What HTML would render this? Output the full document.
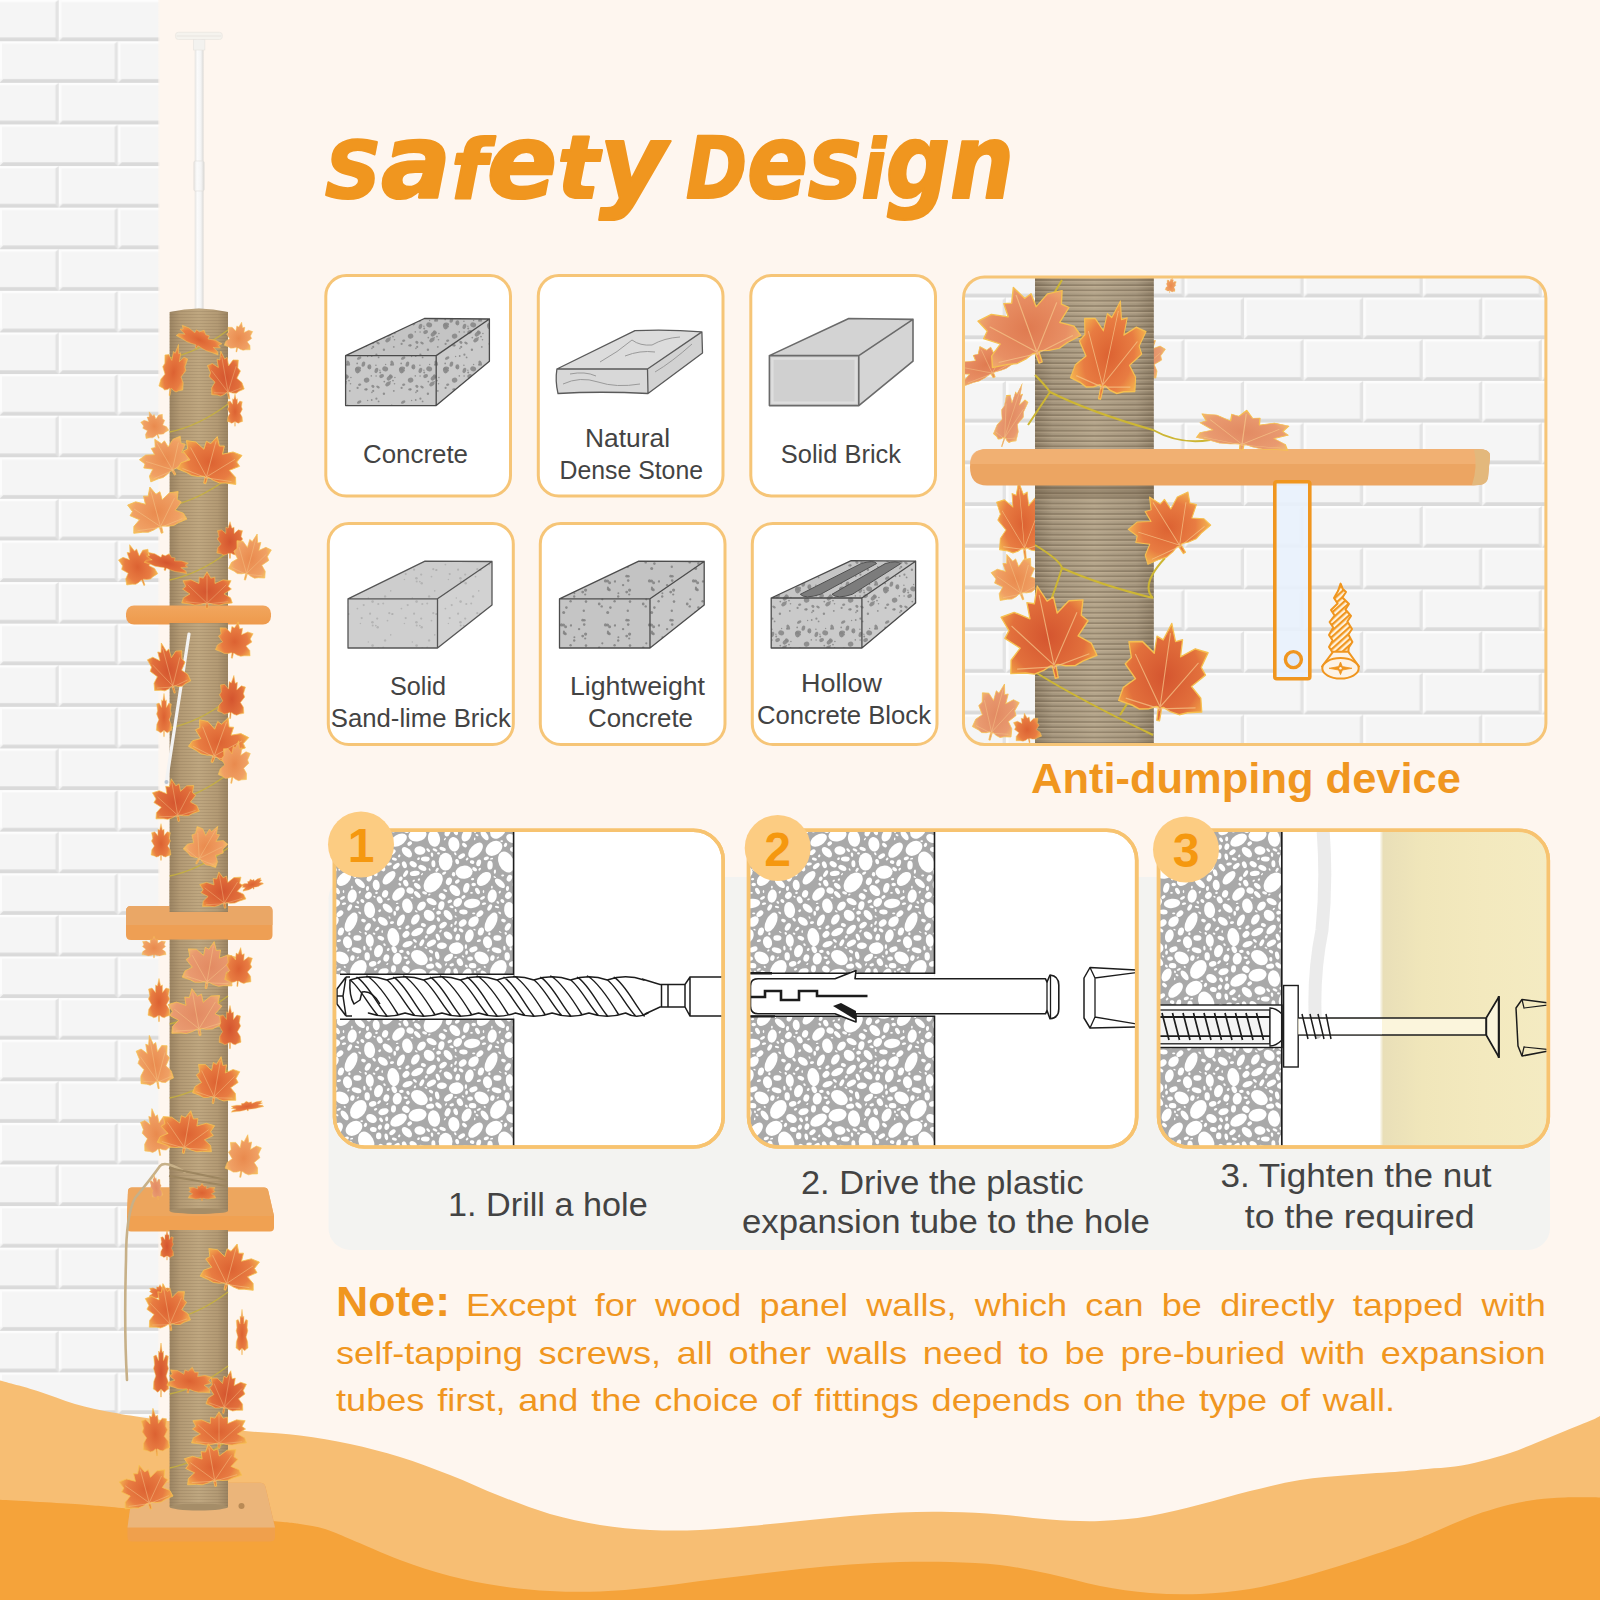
<!DOCTYPE html>
<html lang="en">
<head>
<meta charset="utf-8">
<title>Safety Design</title>
<style>
html,body{margin:0;padding:0;background:#fef6ef;}
#page{position:relative;width:1600px;height:1600px;overflow:hidden;background:#fef6ef;}
svg{position:absolute;left:0;top:0;display:block;}
text{font-family:"Liberation Sans",sans-serif;}
</style>
</head>
<body>
<div id="page">
<svg width="1600" height="1600" viewBox="0 0 1600 1600">
<defs>
<pattern id="wallL" patternUnits="userSpaceOnUse" x="58.75" y="-0.35" width="118.5" height="83.2"><rect width="118.5" height="83.2" fill="#f5f5f5"/><rect x="0" y="0.0" width="118.5" height="2.4" fill="#fdfdfd"/><path d="M-3.3,2.4 L0.0,0.0 L0.0,41.6 L-3.3,37.9 Z" fill="#e3e3e3"/><rect x="0.0" y="0.0" width="2.6" height="37.9" fill="#fcfcfc"/><path d="M115.2,2.4 L118.5,0.0 L118.5,41.6 L115.2,37.9 Z" fill="#e3e3e3"/><rect x="118.5" y="0.0" width="2.6" height="37.9" fill="#fcfcfc"/><path d="M-114.8,37.9 L-3.3,37.9 L0.0,41.6 L-118.5,41.6 Z" fill="#dadada"/><path d="M3.7,37.9 L115.2,37.9 L118.5,41.6 L0.0,41.6 Z" fill="#dadada"/><path d="M122.2,37.9 L233.7,37.9 L237.0,41.6 L118.5,41.6 Z" fill="#dadada"/><rect x="0" y="41.6" width="118.5" height="2.4" fill="#fdfdfd"/><path d="M55.95,44.0 L59.25,41.6 L59.25,83.2 L55.95,79.5 Z" fill="#e3e3e3"/><rect x="59.25" y="41.6" width="2.6" height="37.9" fill="#fcfcfc"/><path d="M174.45,44.0 L177.75,41.6 L177.75,83.2 L174.45,79.5 Z" fill="#e3e3e3"/><rect x="177.75" y="41.6" width="2.6" height="37.9" fill="#fcfcfc"/><path d="M-55.55,79.5 L55.95,79.5 L59.25,83.2 L-59.25,83.2 Z" fill="#dadada"/><path d="M62.95,79.5 L174.45,79.5 L177.75,83.2 L59.25,83.2 Z" fill="#dadada"/><path d="M181.45,79.5 L292.95,79.5 L296.25,83.2 L177.75,83.2 Z" fill="#dadada"/></pattern><pattern id="wallP" patternUnits="userSpaceOnUse" x="1184.55" y="255.8" width="119.1" height="83.4"><rect width="119.1" height="83.4" fill="#f5f5f5"/><rect x="0" y="0.0" width="119.1" height="2.4" fill="#fdfdfd"/><path d="M-3.3,2.4 L0.0,0.0 L0.0,41.7 L-3.3,38.0 Z" fill="#e3e3e3"/><rect x="0.0" y="0.0" width="2.6" height="38.0" fill="#fcfcfc"/><path d="M115.8,2.4 L119.1,0.0 L119.1,41.7 L115.8,38.0 Z" fill="#e3e3e3"/><rect x="119.1" y="0.0" width="2.6" height="38.0" fill="#fcfcfc"/><path d="M-115.39999999999999,38.0 L-3.3,38.0 L0.0,41.7 L-119.1,41.7 Z" fill="#dadada"/><path d="M3.7,38.0 L115.8,38.0 L119.1,41.7 L0.0,41.7 Z" fill="#dadada"/><path d="M122.8,38.0 L234.89999999999998,38.0 L238.2,41.7 L119.1,41.7 Z" fill="#dadada"/><rect x="0" y="41.7" width="119.1" height="2.4" fill="#fdfdfd"/><path d="M56.25,44.1 L59.55,41.7 L59.55,83.4 L56.25,79.7 Z" fill="#e3e3e3"/><rect x="59.55" y="41.7" width="2.6" height="38.0" fill="#fcfcfc"/><path d="M175.34999999999997,44.1 L178.64999999999998,41.7 L178.64999999999998,83.4 L175.34999999999997,79.7 Z" fill="#e3e3e3"/><rect x="178.64999999999998" y="41.7" width="2.6" height="38.0" fill="#fcfcfc"/><path d="M-55.849999999999994,79.7 L56.25,79.7 L59.55,83.4 L-59.55,83.4 Z" fill="#dadada"/><path d="M63.25,79.7 L175.34999999999997,79.7 L178.64999999999998,83.4 L59.55,83.4 Z" fill="#dadada"/><path d="M182.34999999999997,79.7 L294.45,79.7 L297.75,83.4 L178.64999999999998,83.4 Z" fill="#dadada"/></pattern>
<linearGradient id="wallfade" x1="0" x2="1" y1="0" y2="0">
 <stop offset="0" stop-color="#fef6ef" stop-opacity="0"/>
 <stop offset="1" stop-color="#fef6ef" stop-opacity="1"/>
</linearGradient>
<linearGradient id="rope" x1="0" x2="1" y1="0" y2="0">
 <stop offset="0" stop-color="#9b8462"/>
 <stop offset="0.18" stop-color="#b39a74"/>
 <stop offset="0.5" stop-color="#bfa780"/>
 <stop offset="0.82" stop-color="#b39a74"/>
 <stop offset="1" stop-color="#9b8462"/>
</linearGradient>
<linearGradient id="ropeP" x1="0" x2="1" y1="0" y2="0">
 <stop offset="0" stop-color="#8a7b64"/>
 <stop offset="0.15" stop-color="#a4957d"/>
 <stop offset="0.5" stop-color="#b4a58b"/>
 <stop offset="0.85" stop-color="#a4957d"/>
 <stop offset="1" stop-color="#8a7b64"/>
</linearGradient>
<pattern id="ropelines" patternUnits="userSpaceOnUse" width="8" height="3">
 <rect width="8" height="3" fill="none"/>
 <rect y="2" width="8" height="1" fill="#7d6a4c" fill-opacity="0.22"/>
</pattern>
<pattern id="ropelinesP" patternUnits="userSpaceOnUse" width="10" height="5.2">
 <rect y="3.6" width="10" height="1.6" fill="#6d5d47" fill-opacity="0.45"/>
 <rect y="0" width="10" height="1.2" fill="#d2c0a2" fill-opacity="0.35"/>
</pattern>
<linearGradient id="plat" x1="0" x2="0" y1="0" y2="1">
 <stop offset="0" stop-color="#f1a65e"/>
 <stop offset="1" stop-color="#ee9a4c"/>
</linearGradient>
<radialGradient id="leafA" cx="0.5" cy="0.55" r="0.6">
 <stop offset="0" stop-color="#dc6232"/>
 <stop offset="0.62" stop-color="#e87c42"/>
 <stop offset="1" stop-color="#f6bb52"/>
</radialGradient>
<radialGradient id="leafB" cx="0.5" cy="0.55" r="0.6">
 <stop offset="0" stop-color="#e98a4e"/>
 <stop offset="0.7" stop-color="#f0a064"/>
 <stop offset="1" stop-color="#f7c566"/>
</radialGradient>
<radialGradient id="leafC" cx="0.5" cy="0.55" r="0.6">
 <stop offset="0" stop-color="#d4552f"/>
 <stop offset="0.7" stop-color="#e2703c"/>
 <stop offset="1" stop-color="#f3a848"/>
</radialGradient>
<radialGradient id="leafE" cx="0.5" cy="0.55" r="0.6">
 <stop offset="0" stop-color="#df7a50"/>
 <stop offset="0.7" stop-color="#e88f64"/>
 <stop offset="1" stop-color="#f0b070"/>
</radialGradient>
<radialGradient id="leafD" cx="0.5" cy="0.55" r="0.6">
 <stop offset="0" stop-color="#e28a62"/>
 <stop offset="0.7" stop-color="#e99a70"/>
 <stop offset="1" stop-color="#f4bf70"/>
</radialGradient>
<path id="leaf" d="M0.0,-50.0 L7.4,-32.2 L15.4,-35.0 L15.8,-17.5 L31.8,-27.7 L47.6,-25.5 L42.0,-9.8 L48.3,-2.6 L33.6,10.9 L46.6,21.4 L50.0,35.3 L33.5,38.0 L23.8,41.1 L12.7,39.3 L4.4,36.1 L1.9,36.5 L2.0,41.5 L1.7,50.0 L-1.7,50.0 L-2.0,41.5 L-1.9,36.5 L-4.4,36.1 L-12.7,39.3 L-23.8,41.1 L-33.5,38.0 L-50.0,35.3 L-46.6,21.4 L-33.6,10.9 L-48.3,-2.6 L-42.0,-9.8 L-47.6,-25.5 L-31.8,-27.7 L-15.8,-17.5 L-15.4,-35.0 L-7.4,-32.2 Z"/><path id="veins" d="M0,40 L0,-40 M0,36 L38,-14 M0,36 L-38,-14 M0,38 L42,32 M0,38 L-42,32" fill="none"/><pattern id="spkCoarse" patternUnits="userSpaceOnUse" width="44" height="44"><ellipse cx="40.2" cy="11.2" rx="2.7" ry="1.6" transform="rotate(67 40.2 11.2)" fill="#858585" fill-opacity="0.85"/><ellipse cx="37.3" cy="26.0" rx="2.9" ry="2.1" transform="rotate(138 37.3 26.0)" fill="#858585" fill-opacity="0.85"/><ellipse cx="38.9" cy="24.3" rx="2.2" ry="1.6" transform="rotate(39 38.9 24.3)" fill="#858585" fill-opacity="0.85"/><ellipse cx="14.6" cy="28.1" rx="2.8" ry="2.5" transform="rotate(162 14.6 28.1)" fill="#858585" fill-opacity="0.85"/><ellipse cx="17.4" cy="14.9" rx="2.6" ry="2.0" transform="rotate(87 17.4 14.9)" fill="#858585" fill-opacity="0.85"/><ellipse cx="20.9" cy="34.3" rx="1.7" ry="1.4" transform="rotate(37 20.9 34.3)" fill="#858585" fill-opacity="0.85"/><ellipse cx="35.9" cy="32.0" rx="3.0" ry="2.0" transform="rotate(143 35.9 32.0)" fill="#858585" fill-opacity="0.85"/><ellipse cx="29.6" cy="24.1" rx="2.5" ry="1.9" transform="rotate(157 29.6 24.1)" fill="#858585" fill-opacity="0.85"/><ellipse cx="7.7" cy="32.7" rx="1.6" ry="1.2" transform="rotate(166 7.7 32.7)" fill="#858585" fill-opacity="0.85"/><ellipse cx="6.2" cy="16.5" rx="2.9" ry="1.9" transform="rotate(2 6.2 16.5)" fill="#858585" fill-opacity="0.85"/><ellipse cx="24.4" cy="18.4" rx="2.8" ry="1.8" transform="rotate(110 24.4 18.4)" fill="#858585" fill-opacity="0.85"/><ellipse cx="5.4" cy="18.4" rx="3.0" ry="2.4" transform="rotate(74 5.4 18.4)" fill="#858585" fill-opacity="0.85"/><ellipse cx="26.0" cy="35.0" rx="2.0" ry="1.1" transform="rotate(33 26.0 35.0)" fill="#858585" fill-opacity="0.85"/><ellipse cx="13.9" cy="37.4" rx="1.8" ry="1.1" transform="rotate(173 13.9 37.4)" fill="#858585" fill-opacity="0.85"/><ellipse cx="33.2" cy="16.9" rx="3.0" ry="2.5" transform="rotate(15 33.2 16.9)" fill="#858585" fill-opacity="0.85"/><ellipse cx="7.2" cy="6.1" rx="2.4" ry="1.4" transform="rotate(152 7.2 6.1)" fill="#858585" fill-opacity="0.85"/><ellipse cx="11.4" cy="12.2" rx="2.7" ry="1.8" transform="rotate(107 11.4 12.2)" fill="#858585" fill-opacity="0.85"/><circle cx="21.2" cy="38.9" r="1.1" fill="#858585" fill-opacity="0.85"/><circle cx="26.6" cy="5.4" r="0.9" fill="#858585" fill-opacity="0.85"/><circle cx="32.3" cy="29.6" r="0.9" fill="#858585" fill-opacity="0.85"/><circle cx="41.8" cy="38.9" r="0.9" fill="#858585" fill-opacity="0.85"/><circle cx="14.5" cy="37.5" r="0.9" fill="#858585" fill-opacity="0.85"/><circle cx="39.1" cy="12.7" r="1.1" fill="#858585" fill-opacity="0.85"/><circle cx="23.9" cy="13.3" r="0.8" fill="#858585" fill-opacity="0.85"/><circle cx="5.6" cy="35.9" r="1.1" fill="#858585" fill-opacity="0.85"/><circle cx="15.6" cy="4.5" r="0.7" fill="#858585" fill-opacity="0.85"/><circle cx="5.2" cy="11.4" r="0.9" fill="#858585" fill-opacity="0.85"/><circle cx="8.0" cy="18.6" r="1.0" fill="#858585" fill-opacity="0.85"/><circle cx="41.0" cy="28.6" r="0.9" fill="#858585" fill-opacity="0.85"/><circle cx="16.5" cy="15.1" r="0.9" fill="#858585" fill-opacity="0.85"/><circle cx="24.4" cy="2.7" r="1.1" fill="#858585" fill-opacity="0.85"/><circle cx="19.9" cy="40.4" r="0.8" fill="#858585" fill-opacity="0.85"/><circle cx="42.9" cy="25.5" r="0.8" fill="#858585" fill-opacity="0.85"/><circle cx="33.6" cy="12.5" r="0.7" fill="#858585" fill-opacity="0.85"/><circle cx="19.7" cy="4.0" r="0.9" fill="#858585" fill-opacity="0.85"/><circle cx="31.9" cy="41.7" r="1.2" fill="#858585" fill-opacity="0.85"/><circle cx="42.5" cy="31.7" r="0.8" fill="#858585" fill-opacity="0.85"/><circle cx="24.1" cy="24.0" r="0.8" fill="#858585" fill-opacity="0.85"/><circle cx="28.2" cy="20.5" r="1.0" fill="#858585" fill-opacity="0.85"/><circle cx="27.9" cy="18.3" r="0.7" fill="#858585" fill-opacity="0.85"/><circle cx="6.1" cy="19.7" r="0.7" fill="#858585" fill-opacity="0.85"/><circle cx="38.2" cy="29.8" r="0.8" fill="#858585" fill-opacity="0.85"/><circle cx="19.3" cy="23.9" r="0.8" fill="#858585" fill-opacity="0.85"/></pattern><pattern id="spkMed" patternUnits="userSpaceOnUse" width="44" height="44"><circle cx="10.7" cy="4.2" r="1.4" fill="#808080" fill-opacity="0.85"/><circle cx="7.1" cy="13.1" r="1.2" fill="#808080" fill-opacity="0.85"/><circle cx="2.2" cy="24.5" r="1.2" fill="#808080" fill-opacity="0.85"/><circle cx="35.6" cy="9.0" r="1.5" fill="#808080" fill-opacity="0.85"/><circle cx="35.7" cy="40.6" r="1.5" fill="#808080" fill-opacity="0.85"/><circle cx="13.6" cy="18.1" r="1.6" fill="#808080" fill-opacity="0.85"/><circle cx="14.0" cy="29.6" r="1.3" fill="#808080" fill-opacity="0.85"/><circle cx="2.4" cy="21.2" r="1.0" fill="#808080" fill-opacity="0.85"/><circle cx="37.6" cy="10.8" r="1.5" fill="#808080" fill-opacity="0.85"/><circle cx="37.4" cy="17.9" r="1.4" fill="#808080" fill-opacity="0.85"/><circle cx="12.4" cy="4.2" r="1.3" fill="#808080" fill-opacity="0.85"/><circle cx="12.2" cy="8.6" r="1.3" fill="#808080" fill-opacity="0.85"/><circle cx="36.2" cy="17.0" r="1.5" fill="#808080" fill-opacity="0.85"/><circle cx="11.8" cy="38.8" r="1.2" fill="#808080" fill-opacity="0.85"/><circle cx="13.2" cy="22.5" r="1.1" fill="#808080" fill-opacity="0.85"/><circle cx="42.6" cy="29.3" r="1.2" fill="#808080" fill-opacity="0.85"/><circle cx="30.3" cy="27.3" r="1.1" fill="#808080" fill-opacity="0.85"/><circle cx="33.5" cy="8.9" r="1.6" fill="#808080" fill-opacity="0.85"/><circle cx="38.4" cy="35.6" r="1.3" fill="#808080" fill-opacity="0.85"/><circle cx="27.2" cy="32.0" r="1.4" fill="#808080" fill-opacity="0.85"/><circle cx="43.0" cy="9.4" r="1.2" fill="#808080" fill-opacity="0.85"/><circle cx="10.7" cy="20.1" r="1.4" fill="#808080" fill-opacity="0.85"/><circle cx="35.9" cy="15.4" r="1.0" fill="#808080" fill-opacity="0.85"/><circle cx="29.7" cy="34.4" r="1.2" fill="#808080" fill-opacity="0.85"/></pattern><pattern id="spkFine" patternUnits="userSpaceOnUse" width="44" height="44"><circle cx="23.8" cy="9.6" r="0.9" fill="#a9a9a9" fill-opacity="0.7"/><circle cx="11.7" cy="33.1" r="1.1" fill="#a9a9a9" fill-opacity="0.7"/><circle cx="20.6" cy="29.6" r="1.3" fill="#a9a9a9" fill-opacity="0.7"/><circle cx="38.7" cy="18.9" r="0.8" fill="#a9a9a9" fill-opacity="0.7"/><circle cx="20.7" cy="9.6" r="1.0" fill="#a9a9a9" fill-opacity="0.7"/><circle cx="25.7" cy="11.3" r="1.2" fill="#a9a9a9" fill-opacity="0.7"/><circle cx="40.0" cy="42.1" r="0.9" fill="#a9a9a9" fill-opacity="0.7"/><circle cx="20.4" cy="6.2" r="1.3" fill="#a9a9a9" fill-opacity="0.7"/><circle cx="31.2" cy="31.4" r="1.0" fill="#a9a9a9" fill-opacity="0.7"/><circle cx="18.1" cy="41.7" r="1.1" fill="#a9a9a9" fill-opacity="0.7"/><circle cx="9.7" cy="2.1" r="1.1" fill="#a9a9a9" fill-opacity="0.7"/><circle cx="26.3" cy="32.0" r="1.1" fill="#a9a9a9" fill-opacity="0.7"/><circle cx="37.3" cy="41.2" r="1.1" fill="#a9a9a9" fill-opacity="0.7"/><circle cx="40.6" cy="41.9" r="1.0" fill="#a9a9a9" fill-opacity="0.7"/><circle cx="8.4" cy="7.5" r="0.8" fill="#a9a9a9" fill-opacity="0.7"/><circle cx="5.4" cy="36.6" r="0.9" fill="#a9a9a9" fill-opacity="0.7"/><circle cx="16.3" cy="26.0" r="0.8" fill="#a9a9a9" fill-opacity="0.7"/><circle cx="33.1" cy="24.4" r="1.2" fill="#a9a9a9" fill-opacity="0.7"/><circle cx="25.2" cy="2.6" r="1.1" fill="#a9a9a9" fill-opacity="0.7"/><circle cx="35.5" cy="4.6" r="0.9" fill="#a9a9a9" fill-opacity="0.7"/></pattern><pattern id="pebble" patternUnits="userSpaceOnUse" width="140" height="140"><rect width="140" height="140" fill="#a9a9a9"/><ellipse cx="78.4" cy="129.4" rx="10.3" ry="7.2" transform="rotate(125 78.4 129.4)" fill="#ffffff"/><ellipse cx="71.1" cy="82.2" rx="10.4" ry="5.2" transform="rotate(116 71.1 82.2)" fill="#ffffff"/><ellipse cx="13.2" cy="42.5" rx="11.4" ry="7.8" transform="rotate(132 13.2 42.5)" fill="#ffffff"/><ellipse cx="113.4" cy="97.1" rx="9.2" ry="5.9" transform="rotate(80 113.4 97.1)" fill="#ffffff"/><ellipse cx="-2.5" cy="-4.9" rx="9.1" ry="6.2" transform="rotate(169 -2.5 -4.9)" fill="#ffffff"/><ellipse cx="-2.5" cy="135.1" rx="9.1" ry="6.2" transform="rotate(169 -2.5 135.1)" fill="#ffffff"/><ellipse cx="137.5" cy="-4.9" rx="9.1" ry="6.2" transform="rotate(169 137.5 -4.9)" fill="#ffffff"/><ellipse cx="137.5" cy="135.1" rx="9.1" ry="6.2" transform="rotate(169 137.5 135.1)" fill="#ffffff"/><ellipse cx="86.2" cy="22.0" rx="11.0" ry="7.5" transform="rotate(65 86.2 22.0)" fill="#ffffff"/><ellipse cx="74.0" cy="8.3" rx="9.0" ry="6.8" transform="rotate(145 74.0 8.3)" fill="#ffffff"/><ellipse cx="74.0" cy="148.3" rx="9.0" ry="6.8" transform="rotate(145 74.0 148.3)" fill="#ffffff"/><ellipse cx="33.9" cy="4.2" rx="7.3" ry="5.5" transform="rotate(80 33.9 4.2)" fill="#ffffff"/><ellipse cx="33.9" cy="144.2" rx="7.3" ry="5.5" transform="rotate(80 33.9 144.2)" fill="#ffffff"/><ellipse cx="61.7" cy="117.9" rx="7.9" ry="5.7" transform="rotate(33 61.7 117.9)" fill="#ffffff"/><ellipse cx="89.6" cy="70.0" rx="8.0" ry="5.5" transform="rotate(83 89.6 70.0)" fill="#ffffff"/><ellipse cx="64.0" cy="38.9" rx="8.4" ry="5.4" transform="rotate(136 64.0 38.9)" fill="#ffffff"/><ellipse cx="-0.6" cy="117.6" rx="9.2" ry="6.6" transform="rotate(38 -0.6 117.6)" fill="#ffffff"/><ellipse cx="139.4" cy="117.6" rx="9.2" ry="6.6" transform="rotate(38 139.4 117.6)" fill="#ffffff"/><ellipse cx="44.1" cy="32.2" rx="8.5" ry="6.6" transform="rotate(174 44.1 32.2)" fill="#ffffff"/><ellipse cx="118.5" cy="54.1" rx="7.8" ry="4.8" transform="rotate(133 118.5 54.1)" fill="#ffffff"/><ellipse cx="118.6" cy="0.1" rx="9.1" ry="5.4" transform="rotate(148 118.6 0.1)" fill="#ffffff"/><ellipse cx="118.6" cy="140.1" rx="9.1" ry="5.4" transform="rotate(148 118.6 140.1)" fill="#ffffff"/><ellipse cx="127.4" cy="65.8" rx="7.3" ry="5.2" transform="rotate(77 127.4 65.8)" fill="#ffffff"/><ellipse cx="55.6" cy="10.2" rx="9.2" ry="5.1" transform="rotate(133 55.6 10.2)" fill="#ffffff"/><ellipse cx="109.0" cy="37.8" rx="8.3" ry="4.3" transform="rotate(134 109.0 37.8)" fill="#ffffff"/><ellipse cx="46.6" cy="-5.0" rx="7.0" ry="4.4" transform="rotate(117 46.6 -5.0)" fill="#ffffff"/><ellipse cx="46.6" cy="135.0" rx="7.0" ry="4.4" transform="rotate(117 46.6 135.0)" fill="#ffffff"/><ellipse cx="14.0" cy="-1.5" rx="8.3" ry="6.0" transform="rotate(81 14.0 -1.5)" fill="#ffffff"/><ellipse cx="14.0" cy="138.5" rx="8.3" ry="6.0" transform="rotate(81 14.0 138.5)" fill="#ffffff"/><ellipse cx="36.2" cy="108.2" rx="7.3" ry="5.8" transform="rotate(173 36.2 108.2)" fill="#ffffff"/><ellipse cx="52.0" cy="63.4" rx="8.2" ry="4.7" transform="rotate(174 52.0 63.4)" fill="#ffffff"/><ellipse cx="25.6" cy="21.6" rx="8.9" ry="6.9" transform="rotate(90 25.6 21.6)" fill="#ffffff"/><ellipse cx="103.5" cy="131.7" rx="5.3" ry="3.3" transform="rotate(162 103.5 131.7)" fill="#ffffff"/><ellipse cx="134.8" cy="33.4" rx="5.0" ry="2.6" transform="rotate(173 134.8 33.4)" fill="#ffffff"/><ellipse cx="37.7" cy="62.4" rx="5.0" ry="3.8" transform="rotate(132 37.7 62.4)" fill="#ffffff"/><ellipse cx="-2.7" cy="92.0" rx="6.5" ry="3.5" transform="rotate(152 -2.7 92.0)" fill="#ffffff"/><ellipse cx="137.3" cy="92.0" rx="6.5" ry="3.5" transform="rotate(152 137.3 92.0)" fill="#ffffff"/><ellipse cx="67.5" cy="102.3" rx="6.0" ry="4.5" transform="rotate(77 67.5 102.3)" fill="#ffffff"/><ellipse cx="-0.1" cy="10.5" rx="5.5" ry="4.3" transform="rotate(9 -0.1 10.5)" fill="#ffffff"/><ellipse cx="139.9" cy="10.5" rx="5.5" ry="4.3" transform="rotate(9 139.9 10.5)" fill="#ffffff"/><ellipse cx="98.5" cy="111.1" rx="6.2" ry="4.3" transform="rotate(107 98.5 111.1)" fill="#ffffff"/><ellipse cx="49.3" cy="95.9" rx="6.5" ry="4.2" transform="rotate(105 49.3 95.9)" fill="#ffffff"/><ellipse cx="120.9" cy="80.2" rx="6.3" ry="3.2" transform="rotate(117 120.9 80.2)" fill="#ffffff"/><ellipse cx="53.5" cy="81.6" rx="6.0" ry="4.4" transform="rotate(135 53.5 81.6)" fill="#ffffff"/><ellipse cx="11.2" cy="89.5" rx="6.0" ry="3.2" transform="rotate(135 11.2 89.5)" fill="#ffffff"/><ellipse cx="102.9" cy="81.3" rx="5.6" ry="3.6" transform="rotate(37 102.9 81.3)" fill="#ffffff"/><ellipse cx="117.2" cy="118.8" rx="5.8" ry="4.5" transform="rotate(101 117.2 118.8)" fill="#ffffff"/><ellipse cx="79.9" cy="43.3" rx="6.2" ry="3.1" transform="rotate(42 79.9 43.3)" fill="#ffffff"/><ellipse cx="1.5" cy="66.1" rx="5.2" ry="3.6" transform="rotate(132 1.5 66.1)" fill="#ffffff"/><ellipse cx="141.5" cy="66.1" rx="5.2" ry="3.6" transform="rotate(132 141.5 66.1)" fill="#ffffff"/><ellipse cx="126.9" cy="12.2" rx="6.3" ry="3.8" transform="rotate(46 126.9 12.2)" fill="#ffffff"/><ellipse cx="89.8" cy="100.5" rx="6.4" ry="4.0" transform="rotate(84 89.8 100.5)" fill="#ffffff"/><ellipse cx="11.6" cy="61.7" rx="5.5" ry="3.0" transform="rotate(27 11.6 61.7)" fill="#ffffff"/><ellipse cx="107.6" cy="68.2" rx="5.9" ry="3.4" transform="rotate(41 107.6 68.2)" fill="#ffffff"/><ellipse cx="28.1" cy="75.0" rx="5.9" ry="3.3" transform="rotate(51 28.1 75.0)" fill="#ffffff"/><ellipse cx="72.2" cy="56.1" rx="6.6" ry="4.6" transform="rotate(99 72.2 56.1)" fill="#ffffff"/><ellipse cx="9.2" cy="75.4" rx="6.1" ry="4.9" transform="rotate(48 9.2 75.4)" fill="#ffffff"/><ellipse cx="96.2" cy="45.1" rx="5.3" ry="3.5" transform="rotate(83 96.2 45.1)" fill="#ffffff"/><ellipse cx="28.1" cy="95.5" rx="5.0" ry="3.2" transform="rotate(39 28.1 95.5)" fill="#ffffff"/><ellipse cx="28.5" cy="117.6" rx="5.3" ry="2.9" transform="rotate(142 28.5 117.6)" fill="#ffffff"/><ellipse cx="127.6" cy="104.2" rx="5.4" ry="2.8" transform="rotate(158 127.6 104.2)" fill="#ffffff"/><ellipse cx="-4.6" cy="79.5" rx="5.8" ry="3.5" transform="rotate(124 -4.6 79.5)" fill="#ffffff"/><ellipse cx="135.4" cy="79.5" rx="5.8" ry="3.5" transform="rotate(124 135.4 79.5)" fill="#ffffff"/><ellipse cx="21.9" cy="105.7" rx="5.0" ry="3.2" transform="rotate(176 21.9 105.7)" fill="#ffffff"/><ellipse cx="91.5" cy="-1.5" rx="5.6" ry="4.0" transform="rotate(30 91.5 -1.5)" fill="#ffffff"/><ellipse cx="91.5" cy="138.5" rx="5.6" ry="4.0" transform="rotate(30 91.5 138.5)" fill="#ffffff"/><ellipse cx="34.8" cy="50.6" rx="6.5" ry="4.2" transform="rotate(46 34.8 50.6)" fill="#ffffff"/><ellipse cx="76.6" cy="110.3" rx="5.0" ry="2.6" transform="rotate(17 76.6 110.3)" fill="#ffffff"/><ellipse cx="11.4" cy="103.2" rx="5.1" ry="2.8" transform="rotate(148 11.4 103.2)" fill="#ffffff"/><ellipse cx="64.6" cy="-4.6" rx="5.6" ry="2.9" transform="rotate(54 64.6 -4.6)" fill="#ffffff"/><ellipse cx="64.6" cy="135.4" rx="5.6" ry="2.9" transform="rotate(54 64.6 135.4)" fill="#ffffff"/><ellipse cx="46.3" cy="47.9" rx="5.0" ry="2.9" transform="rotate(107 46.3 47.9)" fill="#ffffff"/><ellipse cx="27.6" cy="132.3" rx="4.3" ry="2.7" transform="rotate(112 27.6 132.3)" fill="#ffffff"/><ellipse cx="130.1" cy="50.6" rx="3.7" ry="3.0" transform="rotate(22 130.1 50.6)" fill="#ffffff"/><ellipse cx="17.2" cy="115.5" rx="4.0" ry="2.1" transform="rotate(77 17.2 115.5)" fill="#ffffff"/><ellipse cx="125.6" cy="33.7" rx="3.7" ry="1.8" transform="rotate(123 125.6 33.7)" fill="#ffffff"/><ellipse cx="116.3" cy="26.0" rx="4.0" ry="2.1" transform="rotate(141 116.3 26.0)" fill="#ffffff"/><ellipse cx="2.3" cy="27.9" rx="4.3" ry="2.5" transform="rotate(24 2.3 27.9)" fill="#ffffff"/><ellipse cx="142.3" cy="27.9" rx="4.3" ry="2.5" transform="rotate(24 142.3 27.9)" fill="#ffffff"/><ellipse cx="42.7" cy="83.1" rx="4.2" ry="3.1" transform="rotate(143 42.7 83.1)" fill="#ffffff"/><ellipse cx="125.8" cy="43.1" rx="3.4" ry="2.4" transform="rotate(63 125.8 43.1)" fill="#ffffff"/><ellipse cx="28.9" cy="41.3" rx="3.9" ry="2.9" transform="rotate(109 28.9 41.3)" fill="#ffffff"/><ellipse cx="92.7" cy="123.8" rx="3.8" ry="2.7" transform="rotate(163 92.7 123.8)" fill="#ffffff"/><ellipse cx="112.5" cy="12.2" rx="3.6" ry="2.2" transform="rotate(142 112.5 12.2)" fill="#ffffff"/><ellipse cx="105.1" cy="53.9" rx="3.9" ry="3.0" transform="rotate(110 105.1 53.9)" fill="#ffffff"/><ellipse cx="70.0" cy="25.2" rx="4.4" ry="2.7" transform="rotate(91 70.0 25.2)" fill="#ffffff"/><ellipse cx="133.2" cy="24.3" rx="3.9" ry="2.7" transform="rotate(34 133.2 24.3)" fill="#ffffff"/><ellipse cx="23.1" cy="85.1" rx="4.2" ry="2.6" transform="rotate(143 23.1 85.1)" fill="#ffffff"/><ellipse cx="57.5" cy="51.0" rx="3.4" ry="2.0" transform="rotate(61 57.5 51.0)" fill="#ffffff"/><ellipse cx="53.4" cy="109.4" rx="4.3" ry="2.6" transform="rotate(158 53.4 109.4)" fill="#ffffff"/><ellipse cx="22.2" cy="56.3" rx="3.6" ry="2.9" transform="rotate(36 22.2 56.3)" fill="#ffffff"/><ellipse cx="77.4" cy="98.0" rx="4.1" ry="2.8" transform="rotate(5 77.4 98.0)" fill="#ffffff"/><ellipse cx="87.8" cy="86.9" rx="4.2" ry="2.5" transform="rotate(120 87.8 86.9)" fill="#ffffff"/><ellipse cx="5.3" cy="19.0" rx="4.4" ry="2.5" transform="rotate(179 5.3 19.0)" fill="#ffffff"/><ellipse cx="95.2" cy="32.8" rx="3.6" ry="2.1" transform="rotate(73 95.2 32.8)" fill="#ffffff"/><ellipse cx="98.7" cy="15.8" rx="3.4" ry="2.7" transform="rotate(93 98.7 15.8)" fill="#ffffff"/><ellipse cx="106.3" cy="118.0" rx="3.7" ry="2.9" transform="rotate(106 106.3 118.0)" fill="#ffffff"/><ellipse cx="87.2" cy="116.3" rx="4.1" ry="2.7" transform="rotate(88 87.2 116.3)" fill="#ffffff"/><ellipse cx="88.4" cy="55.5" rx="3.8" ry="3.0" transform="rotate(131 88.4 55.5)" fill="#ffffff"/><ellipse cx="-2.7" cy="54.5" rx="4.2" ry="2.1" transform="rotate(47 -2.7 54.5)" fill="#ffffff"/><ellipse cx="137.3" cy="54.5" rx="4.2" ry="2.1" transform="rotate(47 137.3 54.5)" fill="#ffffff"/><ellipse cx="43.4" cy="72.0" rx="4.2" ry="2.4" transform="rotate(2 43.4 72.0)" fill="#ffffff"/><ellipse cx="21.3" cy="65.6" rx="4.4" ry="3.0" transform="rotate(104 21.3 65.6)" fill="#ffffff"/><ellipse cx="101.9" cy="27.6" rx="4.3" ry="2.4" transform="rotate(52 101.9 27.6)" fill="#ffffff"/><ellipse cx="17.9" cy="97.1" rx="3.5" ry="1.9" transform="rotate(69 17.9 97.1)" fill="#ffffff"/><ellipse cx="39.9" cy="122.2" rx="4.0" ry="2.9" transform="rotate(63 39.9 122.2)" fill="#ffffff"/><ellipse cx="18.5" cy="125.4" rx="3.8" ry="2.2" transform="rotate(43 18.5 125.4)" fill="#ffffff"/><ellipse cx="106.9" cy="6.7" rx="3.4" ry="2.4" transform="rotate(104 106.9 6.7)" fill="#ffffff"/><ellipse cx="-2.7" cy="45.9" rx="3.9" ry="2.3" transform="rotate(41 -2.7 45.9)" fill="#ffffff"/><ellipse cx="137.3" cy="45.9" rx="3.9" ry="2.3" transform="rotate(41 137.3 45.9)" fill="#ffffff"/><ellipse cx="125.9" cy="129.4" rx="4.0" ry="3.1" transform="rotate(34 125.9 129.4)" fill="#ffffff"/><ellipse cx="10.1" cy="126.2" rx="4.1" ry="2.5" transform="rotate(172 10.1 126.2)" fill="#ffffff"/><ellipse cx="93.3" cy="9.5" rx="3.4" ry="2.5" transform="rotate(11 93.3 9.5)" fill="#ffffff"/><ellipse cx="69.7" cy="67.5" rx="3.4" ry="1.9" transform="rotate(121 69.7 67.5)" fill="#ffffff"/><ellipse cx="37.7" cy="97.2" rx="3.4" ry="2.3" transform="rotate(103 37.7 97.2)" fill="#ffffff"/><ellipse cx="52.6" cy="125.7" rx="3.8" ry="2.6" transform="rotate(7 52.6 125.7)" fill="#ffffff"/><ellipse cx="60.9" cy="91.5" rx="4.1" ry="2.9" transform="rotate(109 60.9 91.5)" fill="#ffffff"/><ellipse cx="126.0" cy="94.4" rx="3.9" ry="2.9" transform="rotate(137 126.0 94.4)" fill="#ffffff"/><ellipse cx="22.6" cy="8.9" rx="3.3" ry="1.8" transform="rotate(22 22.6 8.9)" fill="#ffffff"/><ellipse cx="13.4" cy="23.7" rx="3.5" ry="2.0" transform="rotate(88 13.4 23.7)" fill="#ffffff"/><ellipse cx="113.5" cy="128.8" rx="3.6" ry="2.5" transform="rotate(94 113.5 128.8)" fill="#ffffff"/><ellipse cx="41.7" cy="16.1" rx="3.7" ry="2.2" transform="rotate(151 41.7 16.1)" fill="#ffffff"/><ellipse cx="100.9" cy="98.2" rx="3.5" ry="2.1" transform="rotate(24 100.9 98.2)" fill="#ffffff"/><ellipse cx="124.4" cy="24.8" rx="3.5" ry="2.3" transform="rotate(70 124.4 24.8)" fill="#ffffff"/><ellipse cx="1.8" cy="102.8" rx="3.7" ry="1.9" transform="rotate(118 1.8 102.8)" fill="#ffffff"/><ellipse cx="141.8" cy="102.8" rx="3.7" ry="1.9" transform="rotate(118 141.8 102.8)" fill="#ffffff"/><ellipse cx="99.7" cy="59.9" rx="3.7" ry="2.6" transform="rotate(60 99.7 59.9)" fill="#ffffff"/><ellipse cx="59.9" cy="73.7" rx="3.9" ry="2.6" transform="rotate(140 59.9 73.7)" fill="#ffffff"/><ellipse cx="106.3" cy="16.8" rx="3.4" ry="1.8" transform="rotate(82 106.3 16.8)" fill="#ffffff"/><ellipse cx="114.2" cy="109.6" rx="3.7" ry="2.5" transform="rotate(67 114.2 109.6)" fill="#ffffff"/><ellipse cx="58.7" cy="22.9" rx="3.5" ry="2.3" transform="rotate(105 58.7 22.9)" fill="#ffffff"/><ellipse cx="89.4" cy="38.2" rx="3.5" ry="2.5" transform="rotate(116 89.4 38.2)" fill="#ffffff"/><ellipse cx="35.7" cy="131.8" rx="3.5" ry="2.2" transform="rotate(75 35.7 131.8)" fill="#ffffff"/><ellipse cx="128.0" cy="112.8" rx="2.2" ry="1.5" transform="rotate(61 128.0 112.8)" fill="#ffffff"/><ellipse cx="58.8" cy="129.4" rx="2.2" ry="1.1" transform="rotate(155 58.8 129.4)" fill="#ffffff"/><ellipse cx="54.6" cy="29.2" rx="2.6" ry="1.8" transform="rotate(30 54.6 29.2)" fill="#ffffff"/><ellipse cx="52.1" cy="22.1" rx="2.3" ry="1.8" transform="rotate(14 52.1 22.1)" fill="#ffffff"/><ellipse cx="127.8" cy="122.6" rx="2.2" ry="1.7" transform="rotate(146 127.8 122.6)" fill="#ffffff"/><ellipse cx="117.5" cy="68.4" rx="2.5" ry="1.8" transform="rotate(116 117.5 68.4)" fill="#ffffff"/><ellipse cx="82.4" cy="61.0" rx="2.2" ry="1.7" transform="rotate(43 82.4 61.0)" fill="#ffffff"/><ellipse cx="74.9" cy="31.6" rx="2.2" ry="1.1" transform="rotate(94 74.9 31.6)" fill="#ffffff"/><ellipse cx="12.0" cy="14.7" rx="2.3" ry="1.3" transform="rotate(84 12.0 14.7)" fill="#ffffff"/><ellipse cx="8.2" cy="10.2" rx="2.3" ry="1.3" transform="rotate(46 8.2 10.2)" fill="#ffffff"/><ellipse cx="101.1" cy="-0.1" rx="2.5" ry="1.5" transform="rotate(56 101.1 -0.1)" fill="#ffffff"/><ellipse cx="101.1" cy="139.9" rx="2.5" ry="1.5" transform="rotate(56 101.1 139.9)" fill="#ffffff"/><ellipse cx="99.1" cy="122.1" rx="2.3" ry="1.3" transform="rotate(135 99.1 122.1)" fill="#ffffff"/><ellipse cx="99.9" cy="7.1" rx="2.6" ry="2.0" transform="rotate(115 99.9 7.1)" fill="#ffffff"/><ellipse cx="35.6" cy="82.9" rx="2.2" ry="1.1" transform="rotate(114 35.6 82.9)" fill="#ffffff"/><ellipse cx="129.7" cy="3.6" rx="2.6" ry="1.9" transform="rotate(142 129.7 3.6)" fill="#ffffff"/><ellipse cx="29.8" cy="61.4" rx="2.4" ry="1.6" transform="rotate(156 29.8 61.4)" fill="#ffffff"/><ellipse cx="3.4" cy="85.0" rx="2.6" ry="1.9" transform="rotate(15 3.4 85.0)" fill="#ffffff"/><ellipse cx="114.4" cy="19.1" rx="2.6" ry="1.5" transform="rotate(12 114.4 19.1)" fill="#ffffff"/><ellipse cx="24.2" cy="33.1" rx="2.2" ry="1.3" transform="rotate(151 24.2 33.1)" fill="#ffffff"/><ellipse cx="18.4" cy="79.3" rx="2.4" ry="1.6" transform="rotate(64 18.4 79.3)" fill="#ffffff"/><ellipse cx="125.6" cy="117.7" rx="2.1" ry="1.2" transform="rotate(11 125.6 117.7)" fill="#ffffff"/><ellipse cx="106.7" cy="-1.1" rx="2.3" ry="1.5" transform="rotate(95 106.7 -1.1)" fill="#ffffff"/><ellipse cx="106.7" cy="138.9" rx="2.3" ry="1.5" transform="rotate(95 106.7 138.9)" fill="#ffffff"/><ellipse cx="44.5" cy="5.1" rx="2.8" ry="1.8" transform="rotate(36 44.5 5.1)" fill="#ffffff"/><ellipse cx="94.1" cy="79.7" rx="2.2" ry="1.3" transform="rotate(48 94.1 79.7)" fill="#ffffff"/><ellipse cx="58.9" cy="100.7" rx="2.1" ry="1.3" transform="rotate(167 58.9 100.7)" fill="#ffffff"/><ellipse cx="50.1" cy="118.7" rx="2.9" ry="2.1" transform="rotate(177 50.1 118.7)" fill="#ffffff"/><ellipse cx="53.7" cy="44.5" rx="2.3" ry="1.7" transform="rotate(2 53.7 44.5)" fill="#ffffff"/><ellipse cx="112.0" cy="82.6" rx="2.1" ry="1.4" transform="rotate(171 112.0 82.6)" fill="#ffffff"/><ellipse cx="31.7" cy="124.9" rx="2.3" ry="1.5" transform="rotate(169 31.7 124.9)" fill="#ffffff"/><ellipse cx="66.3" cy="18.3" rx="2.7" ry="1.7" transform="rotate(162 66.3 18.3)" fill="#ffffff"/><ellipse cx="35.3" cy="89.7" rx="2.3" ry="1.6" transform="rotate(109 35.3 89.7)" fill="#ffffff"/><ellipse cx="84.4" cy="108.1" rx="2.4" ry="1.2" transform="rotate(85 84.4 108.1)" fill="#ffffff"/><ellipse cx="64.0" cy="63.7" rx="2.2" ry="1.2" transform="rotate(167 64.0 63.7)" fill="#ffffff"/><ellipse cx="33.6" cy="34.2" rx="2.2" ry="1.7" transform="rotate(90 33.6 34.2)" fill="#ffffff"/><ellipse cx="127.4" cy="87.2" rx="2.3" ry="1.6" transform="rotate(148 127.4 87.2)" fill="#ffffff"/><ellipse cx="37.2" cy="21.6" rx="2.7" ry="1.9" transform="rotate(71 37.2 21.6)" fill="#ffffff"/><ellipse cx="97.2" cy="89.0" rx="2.6" ry="1.4" transform="rotate(137 97.2 89.0)" fill="#ffffff"/><ellipse cx="62.5" cy="57.9" rx="2.7" ry="1.4" transform="rotate(154 62.5 57.9)" fill="#ffffff"/><ellipse cx="43.4" cy="57.0" rx="2.3" ry="1.5" transform="rotate(146 43.4 57.0)" fill="#ffffff"/><ellipse cx="10.8" cy="119.3" rx="2.2" ry="1.6" transform="rotate(88 10.8 119.3)" fill="#ffffff"/><ellipse cx="77.0" cy="67.0" rx="2.2" ry="1.1" transform="rotate(12 77.0 67.0)" fill="#ffffff"/><ellipse cx="114.8" cy="73.4" rx="2.3" ry="1.4" transform="rotate(88 114.8 73.4)" fill="#ffffff"/><ellipse cx="85.5" cy="4.9" rx="2.2" ry="1.5" transform="rotate(120 85.5 4.9)" fill="#ffffff"/><ellipse cx="46.6" cy="112.6" rx="2.2" ry="1.4" transform="rotate(99 46.6 112.6)" fill="#ffffff"/><ellipse cx="31.5" cy="66.8" rx="2.1" ry="1.3" transform="rotate(12 31.5 66.8)" fill="#ffffff"/><ellipse cx="17.1" cy="29.8" rx="2.3" ry="1.3" transform="rotate(125 17.1 29.8)" fill="#ffffff"/><ellipse cx="72.4" cy="118.1" rx="2.8" ry="2.2" transform="rotate(102 72.4 118.1)" fill="#ffffff"/><ellipse cx="109.1" cy="24.1" rx="2.8" ry="1.5" transform="rotate(175 109.1 24.1)" fill="#ffffff"/><ellipse cx="120.7" cy="38.7" rx="2.3" ry="1.8" transform="rotate(123 120.7 38.7)" fill="#ffffff"/><ellipse cx="11.0" cy="111.6" rx="2.4" ry="1.5" transform="rotate(33 11.0 111.6)" fill="#ffffff"/><ellipse cx="135.0" cy="100.9" rx="2.3" ry="1.2" transform="rotate(39 135.0 100.9)" fill="#ffffff"/><ellipse cx="15.0" cy="9.9" rx="2.6" ry="1.3" transform="rotate(27 15.0 9.9)" fill="#ffffff"/><ellipse cx="121.4" cy="111.4" rx="2.3" ry="1.6" transform="rotate(175 121.4 111.4)" fill="#ffffff"/><ellipse cx="37.3" cy="41.5" rx="2.6" ry="1.7" transform="rotate(147 37.3 41.5)" fill="#ffffff"/><ellipse cx="45.9" cy="106.6" rx="2.3" ry="1.2" transform="rotate(92 45.9 106.6)" fill="#ffffff"/><ellipse cx="25.2" cy="50.5" rx="2.2" ry="1.2" transform="rotate(28 25.2 50.5)" fill="#ffffff"/><ellipse cx="4.6" cy="52.9" rx="2.6" ry="1.4" transform="rotate(21 4.6 52.9)" fill="#ffffff"/><ellipse cx="87.5" cy="48.4" rx="2.5" ry="1.6" transform="rotate(98 87.5 48.4)" fill="#ffffff"/><ellipse cx="41.1" cy="90.3" rx="2.7" ry="1.5" transform="rotate(38 41.1 90.3)" fill="#ffffff"/><ellipse cx="83.5" cy="80.6" rx="2.4" ry="1.7" transform="rotate(12 83.5 80.6)" fill="#ffffff"/><ellipse cx="18.6" cy="72.7" rx="2.4" ry="1.9" transform="rotate(173 18.6 72.7)" fill="#ffffff"/><ellipse cx="69.4" cy="93.8" rx="1.5" ry="1.2" transform="rotate(95 69.4 93.8)" fill="#ffffff"/><ellipse cx="133.7" cy="40.7" rx="1.4" ry="0.9" transform="rotate(144 133.7 40.7)" fill="#ffffff"/><ellipse cx="79.8" cy="52.1" rx="1.5" ry="1.0" transform="rotate(116 79.8 52.1)" fill="#ffffff"/><ellipse cx="20.5" cy="91.1" rx="1.7" ry="0.9" transform="rotate(132 20.5 91.1)" fill="#ffffff"/><ellipse cx="64.8" cy="126.9" rx="1.3" ry="0.8" transform="rotate(48 64.8 126.9)" fill="#ffffff"/><ellipse cx="108.5" cy="59.4" rx="1.4" ry="1.0" transform="rotate(165 108.5 59.4)" fill="#ffffff"/><ellipse cx="63.5" cy="51.5" rx="1.6" ry="0.8" transform="rotate(88 63.5 51.5)" fill="#ffffff"/><ellipse cx="2.0" cy="34.2" rx="1.3" ry="0.7" transform="rotate(134 2.0 34.2)" fill="#ffffff"/><ellipse cx="108.2" cy="109.5" rx="1.7" ry="1.2" transform="rotate(128 108.2 109.5)" fill="#ffffff"/><ellipse cx="94.1" cy="93.6" rx="1.4" ry="0.9" transform="rotate(29 94.1 93.6)" fill="#ffffff"/><ellipse cx="51.5" cy="52.8" rx="1.4" ry="0.9" transform="rotate(176 51.5 52.8)" fill="#ffffff"/><ellipse cx="77.9" cy="117.6" rx="1.4" ry="0.8" transform="rotate(146 77.9 117.6)" fill="#ffffff"/><ellipse cx="81.7" cy="1.1" rx="1.4" ry="0.9" transform="rotate(6 81.7 1.1)" fill="#ffffff"/><ellipse cx="81.7" cy="141.1" rx="1.4" ry="0.9" transform="rotate(6 81.7 141.1)" fill="#ffffff"/><ellipse cx="135.0" cy="106.9" rx="1.5" ry="1.0" transform="rotate(125 135.0 106.9)" fill="#ffffff"/><ellipse cx="71.5" cy="18.7" rx="1.6" ry="0.8" transform="rotate(169 71.5 18.7)" fill="#ffffff"/><ellipse cx="138.5" cy="18.7" rx="1.5" ry="1.1" transform="rotate(131 138.5 18.7)" fill="#ffffff"/><ellipse cx="68.3" cy="110.4" rx="1.3" ry="0.9" transform="rotate(145 68.3 110.4)" fill="#ffffff"/><ellipse cx="35.3" cy="13.8" rx="1.6" ry="1.0" transform="rotate(56 35.3 13.8)" fill="#ffffff"/><ellipse cx="96.5" cy="52.8" rx="1.4" ry="1.1" transform="rotate(174 96.5 52.8)" fill="#ffffff"/><ellipse cx="35.6" cy="70.4" rx="1.6" ry="0.9" transform="rotate(68 35.6 70.4)" fill="#ffffff"/><ellipse cx="52.6" cy="39.1" rx="1.6" ry="1.1" transform="rotate(166 52.6 39.1)" fill="#ffffff"/><ellipse cx="119.2" cy="15.9" rx="1.5" ry="1.1" transform="rotate(118 119.2 15.9)" fill="#ffffff"/><ellipse cx="59.7" cy="29.2" rx="1.6" ry="1.0" transform="rotate(128 59.7 29.2)" fill="#ffffff"/><ellipse cx="119.8" cy="44.3" rx="1.6" ry="1.2" transform="rotate(48 119.8 44.3)" fill="#ffffff"/><ellipse cx="95.6" cy="129.3" rx="1.7" ry="1.2" transform="rotate(152 95.6 129.3)" fill="#ffffff"/><ellipse cx="136.2" cy="71.4" rx="1.5" ry="0.8" transform="rotate(32 136.2 71.4)" fill="#ffffff"/><ellipse cx="35.7" cy="117.3" rx="1.4" ry="0.7" transform="rotate(170 35.7 117.3)" fill="#ffffff"/><ellipse cx="47.1" cy="19.1" rx="1.6" ry="1.1" transform="rotate(131 47.1 19.1)" fill="#ffffff"/><ellipse cx="82.7" cy="35.5" rx="1.5" ry="0.9" transform="rotate(173 82.7 35.5)" fill="#ffffff"/><ellipse cx="77.8" cy="62.4" rx="1.6" ry="1.0" transform="rotate(39 77.8 62.4)" fill="#ffffff"/><ellipse cx="31.5" cy="85.6" rx="1.6" ry="1.1" transform="rotate(104 31.5 85.6)" fill="#ffffff"/><ellipse cx="13.8" cy="68.9" rx="1.4" ry="0.9" transform="rotate(133 13.8 68.9)" fill="#ffffff"/><ellipse cx="109.5" cy="77.5" rx="1.4" ry="0.8" transform="rotate(57 109.5 77.5)" fill="#ffffff"/><ellipse cx="99.7" cy="70.7" rx="1.6" ry="1.2" transform="rotate(135 99.7 70.7)" fill="#ffffff"/><ellipse cx="43.0" cy="116.3" rx="1.4" ry="0.8" transform="rotate(41 43.0 116.3)" fill="#ffffff"/><ellipse cx="54.5" cy="89.7" rx="1.3" ry="0.7" transform="rotate(22 54.5 89.7)" fill="#ffffff"/><ellipse cx="117.2" cy="63.4" rx="1.3" ry="0.7" transform="rotate(177 117.2 63.4)" fill="#ffffff"/><ellipse cx="104.5" cy="104.6" rx="1.5" ry="1.0" transform="rotate(49 104.5 104.6)" fill="#ffffff"/><ellipse cx="24.9" cy="-0.9" rx="1.4" ry="0.7" transform="rotate(125 24.9 -0.9)" fill="#ffffff"/><ellipse cx="24.9" cy="139.1" rx="1.4" ry="0.7" transform="rotate(125 24.9 139.1)" fill="#ffffff"/><ellipse cx="26.0" cy="124.4" rx="1.4" ry="0.8" transform="rotate(124 26.0 124.4)" fill="#ffffff"/><ellipse cx="80.2" cy="92.0" rx="1.4" ry="0.7" transform="rotate(30 80.2 92.0)" fill="#ffffff"/><ellipse cx="6.3" cy="96.8" rx="1.7" ry="1.3" transform="rotate(120 6.3 96.8)" fill="#ffffff"/><ellipse cx="132.0" cy="57.8" rx="1.3" ry="0.7" transform="rotate(4 132.0 57.8)" fill="#ffffff"/><ellipse cx="55.0" cy="131.8" rx="1.4" ry="0.9" transform="rotate(78 55.0 131.8)" fill="#ffffff"/><ellipse cx="102.2" cy="91.6" rx="1.3" ry="0.8" transform="rotate(93 102.2 91.6)" fill="#ffffff"/><ellipse cx="9.3" cy="54.6" rx="1.3" ry="0.8" transform="rotate(153 9.3 54.6)" fill="#ffffff"/><ellipse cx="119.9" cy="88.4" rx="1.4" ry="0.9" transform="rotate(180 119.9 88.4)" fill="#ffffff"/><ellipse cx="35.7" cy="76.6" rx="1.3" ry="0.7" transform="rotate(34 35.7 76.6)" fill="#ffffff"/><ellipse cx="54.7" cy="-1.2" rx="1.4" ry="0.7" transform="rotate(99 54.7 -1.2)" fill="#ffffff"/><ellipse cx="54.7" cy="138.8" rx="1.4" ry="0.7" transform="rotate(99 54.7 138.8)" fill="#ffffff"/><ellipse cx="9.6" cy="29.5" rx="1.4" ry="0.8" transform="rotate(64 9.6 29.5)" fill="#ffffff"/><ellipse cx="74.8" cy="37.1" rx="1.4" ry="0.8" transform="rotate(26 74.8 37.1)" fill="#ffffff"/><ellipse cx="6.0" cy="107.8" rx="1.5" ry="0.8" transform="rotate(29 6.0 107.8)" fill="#ffffff"/><ellipse cx="107.3" cy="124.0" rx="1.3" ry="0.7" transform="rotate(133 107.3 124.0)" fill="#ffffff"/><ellipse cx="90.7" cy="108.9" rx="1.6" ry="1.1" transform="rotate(77 90.7 108.9)" fill="#ffffff"/><ellipse cx="53.7" cy="73.4" rx="1.6" ry="0.9" transform="rotate(7 53.7 73.4)" fill="#ffffff"/><ellipse cx="94.5" cy="56.7" rx="1.3" ry="0.8" transform="rotate(30 94.5 56.7)" fill="#ffffff"/><ellipse cx="57.0" cy="135.2" rx="1.5" ry="1.0" transform="rotate(24 57.0 135.2)" fill="#ffffff"/><ellipse cx="-1.1" cy="39.6" rx="1.3" ry="1.0" transform="rotate(129 -1.1 39.6)" fill="#ffffff"/><ellipse cx="138.9" cy="39.6" rx="1.3" ry="1.0" transform="rotate(129 138.9 39.6)" fill="#ffffff"/><ellipse cx="46.4" cy="126.1" rx="1.7" ry="1.1" transform="rotate(43 46.4 126.1)" fill="#ffffff"/><ellipse cx="79.7" cy="72.8" rx="1.7" ry="1.0" transform="rotate(41 79.7 72.8)" fill="#ffffff"/><ellipse cx="18.5" cy="13.4" rx="1.5" ry="1.1" transform="rotate(18 18.5 13.4)" fill="#ffffff"/><ellipse cx="85.8" cy="93.4" rx="1.5" ry="1.1" transform="rotate(61 85.8 93.4)" fill="#ffffff"/><ellipse cx="71.9" cy="47.1" rx="1.3" ry="0.9" transform="rotate(97 71.9 47.1)" fill="#ffffff"/></pattern><linearGradient id="cream" x1="0" x2="1" y1="0" y2="0"><stop offset="0" stop-color="#e8deb8" stop-opacity="0"/><stop offset="0.022" stop-color="#e9dfb8"/><stop offset="0.25" stop-color="#f0e6ba"/><stop offset="0.6" stop-color="#f3e9be"/><stop offset="1" stop-color="#f4ebc2"/></linearGradient>
</defs>
<rect x="0" y="0" width="159.2" height="1600" fill="url(#wallL)"/>
<rect x="157.7" y="0" width="1.5" height="1600" fill="url(#wallfade)"/>
<path d="M0,1380.6 C6.2,1382.3 25.0,1387.1 37.5,1391 C50.0,1394.9 62.5,1400.4 75,1404 C87.5,1407.6 100.0,1410.1 112.5,1412.5 C125.0,1414.9 135.4,1416.4 150,1418.5 C164.6,1420.6 184.2,1422.9 200,1425 C215.8,1427.1 228.3,1429.2 245,1431 C261.7,1432.8 282.5,1433.3 300,1435.5 C317.5,1437.7 333.3,1440.4 350,1444 C366.7,1447.6 383.3,1451.8 400,1457 C416.7,1462.2 433.3,1468.5 450,1475 C466.7,1481.5 483.3,1489.5 500,1496 C516.7,1502.5 533.3,1509.2 550,1514 C566.7,1518.8 583.3,1522.3 600,1525 C616.7,1527.7 633.3,1529.2 650,1530 C666.7,1530.8 683.3,1530.7 700,1530 C716.7,1529.3 733.3,1527.5 750,1526 C766.7,1524.5 783.3,1522.7 800,1521 C816.7,1519.3 833.3,1517.4 850,1516 C866.7,1514.6 883.3,1513.2 900,1512.5 C916.7,1511.8 933.3,1511.7 950,1512 C966.7,1512.3 983.3,1513.2 1000,1514.5 C1016.7,1515.8 1033.3,1518.4 1050,1519.5 C1066.7,1520.6 1083.3,1521.6 1100,1521 C1116.7,1520.4 1133.3,1518.8 1150,1516 C1166.7,1513.2 1183.3,1508.7 1200,1504.5 C1216.7,1500.3 1233.3,1495.1 1250,1491 C1266.7,1486.9 1283.3,1482.7 1300,1480 C1316.7,1477.3 1333.3,1476.4 1350,1475 C1366.7,1473.6 1387.2,1472.5 1400,1471.5 C1412.8,1470.5 1417.8,1469.8 1427,1469 C1436.2,1468.2 1445.8,1467.9 1455,1466.6 C1464.2,1465.3 1472.8,1463.3 1482,1461 C1491.2,1458.7 1500.8,1456.1 1510,1453 C1519.2,1449.9 1527.8,1446.2 1537,1442.5 C1546.2,1438.8 1555.8,1434.8 1565,1431 C1574.2,1427.2 1586.2,1422.5 1592,1420 C1597.8,1417.5 1598.7,1416.7 1600,1416 L1600,1600 L0,1600 Z" fill="#f7be73"/>
<path d="M0,1499.7 C12.5,1500.4 54.7,1502.6 75,1504 C95.3,1505.4 101.2,1506.2 122,1508 C142.8,1509.8 174.1,1512.8 200,1515 C225.9,1517.2 260.8,1520.0 277.5,1521.5 C294.2,1523.0 292.1,1522.8 300,1524 C307.9,1525.2 316.7,1526.5 325,1529 C333.3,1531.5 337.5,1533.8 350,1539 C362.5,1544.2 383.3,1553.8 400,1560 C416.7,1566.2 433.3,1571.7 450,1576 C466.7,1580.3 483.3,1583.5 500,1586 C516.7,1588.5 533.3,1590.1 550,1591 C566.7,1591.9 583.3,1592.1 600,1591.5 C616.7,1590.9 633.3,1589.2 650,1587.5 C666.7,1585.8 683.3,1583.1 700,1581 C716.7,1578.9 733.3,1577.0 750,1575 C766.7,1573.0 783.3,1570.8 800,1569 C816.7,1567.2 833.3,1565.7 850,1564.5 C866.7,1563.3 883.3,1562.4 900,1562 C916.7,1561.6 933.3,1561.5 950,1562 C966.7,1562.5 983.3,1563.0 1000,1565 C1016.7,1567.0 1033.3,1570.5 1050,1574 C1066.7,1577.5 1083.3,1582.8 1100,1586 C1116.7,1589.2 1133.3,1591.7 1150,1593 C1166.7,1594.3 1183.3,1594.7 1200,1594 C1216.7,1593.3 1233.3,1591.8 1250,1589 C1266.7,1586.2 1283.3,1581.9 1300,1577.5 C1316.7,1573.1 1333.3,1567.8 1350,1562.5 C1366.7,1557.2 1387.1,1550.4 1400,1545.8 C1412.9,1541.2 1418.3,1538.8 1427.5,1535 C1436.7,1531.2 1445.9,1526.7 1455,1523 C1464.1,1519.3 1472.8,1515.7 1482,1512.6 C1491.2,1509.5 1500.8,1506.6 1510,1504.4 C1519.2,1502.2 1527.8,1500.8 1537,1499.6 C1546.2,1498.4 1554.5,1497.8 1565,1497.5 C1575.5,1497.2 1594.2,1497.5 1600,1497.5 L1600,1600 L0,1600 Z" fill="#f5a33a"/>
<linearGradient id="poleg" x1="0" x2="1" y1="0" y2="0"><stop offset="0" stop-color="#e4e2df"/><stop offset="0.3" stop-color="#fbfbfb"/><stop offset="0.7" stop-color="#f4f4f4"/><stop offset="1" stop-color="#d9d7d4"/></linearGradient>
<rect x="175.5" y="32.3" width="46.8" height="7.2" rx="2.8" fill="#f5f3ee" stroke="#ebe7e1" stroke-width="0.8"/>
<rect x="176.5" y="35.5" width="44.8" height="1" fill="#e9e6e0"/>
<rect x="194.7" y="39.5" width="8.8" height="270" fill="url(#poleg)"/>
<rect x="193.3" y="39.5" width="11.6" height="10.5" fill="#f3f2ef" stroke="#e6e3de" stroke-width="0.6"/>
<rect x="193.8" y="161" width="10.4" height="30" rx="1.5" fill="url(#poleg)" stroke="#e0ddd9" stroke-width="0.6"/>
<path d="M169.6,312 Q198.79999999999998,305 228.0,312 L228.0,607 L169.6,607 Z" fill="url(#rope)"/>
<path d="M169.6,312 Q198.79999999999998,305 228.0,312 L228.0,607 L169.6,607 Z" fill="url(#ropelines)"/>
<rect x="126" y="605.5" width="145" height="19" rx="8" fill="url(#plat)"/>
<rect x="169.6" y="623" width="58.4" height="302" fill="url(#rope)"/><rect x="169.6" y="623" width="58.4" height="302" fill="url(#ropelines)"/>
<path d="M131,906 L267.5,906 Q272.5,906 272.5,911 L272.5,935 Q272.5,940 267.5,940 L131,940 Q126,940 126,935 L126,911 Q126,906 131,906 Z" fill="#ee9f54"/>
<path d="M131,906 L267.5,906 Q272.5,906 272.5,911 L272.5,925 L126,925 L126,911 Q126,906 131,906 Z" fill="#eaa766"/>
<rect x="169.6" y="880" width="58.4" height="32" fill="url(#rope)"/><rect x="169.6" y="880" width="58.4" height="32" fill="url(#ropelines)"/>
<rect x="169.6" y="939.5" width="58.4" height="272.5" fill="url(#rope)"/><rect x="169.6" y="939.5" width="58.4" height="272.5" fill="url(#ropelines)"/>
<path d="M132,1187.6 L264,1187.6 Q267.5,1187.6 268.3,1191 L274,1216 L274,1227.5 Q274,1231.4 270,1231.4 L131,1231.4 Q127,1231.4 127,1227.5 L127,1216 L128,1191 Q128.4,1187.6 132,1187.6 Z" fill="#f0a152"/>
<path d="M132,1187.6 L264,1187.6 Q267.5,1187.6 268.3,1191 L274,1216 L127,1216 L128,1191 Q128.4,1187.6 132,1187.6 Z" fill="#eda65e"/>
<rect x="169.6" y="1150" width="58.4" height="61" fill="url(#rope)"/><rect x="169.6" y="1150" width="58.4" height="61" fill="url(#ropelines)"/>
<ellipse cx="198.79999999999998" cy="1211" rx="29.2" ry="3" fill="#a58d68"/>
<path d="M138,1482.8 L260,1482.8 Q264.5,1482.8 265.5,1487 L275,1527 L275,1537 Q275,1541.5 270,1541.5 L132,1541.5 Q127.5,1541.5 127.5,1537 L127.5,1527 L133,1487 Q133.6,1482.8 138,1482.8 Z" fill="#f0a04c"/>
<path d="M138,1482.8 L260,1482.8 Q264.5,1482.8 265.5,1487 L275,1527.5 L127.5,1527.5 L133,1487 Q133.6,1482.8 138,1482.8 Z" fill="#ebb57a"/>
<circle cx="241.5" cy="1506" r="3" fill="#b98a55"/>
<rect x="169.6" y="1230" width="58.4" height="277" fill="url(#rope)"/><rect x="169.6" y="1230" width="58.4" height="277" fill="url(#ropelines)"/>
<ellipse cx="198.79999999999998" cy="1507" rx="29.2" ry="3.5" fill="#a58d68"/>
<path d="M169.6,358 Q198.79999999999998,352 228.0,330 M169.6,432 Q198.79999999999998,426 228.0,404 M169.6,506 Q198.79999999999998,500 228.0,478 M169.6,580 Q198.79999999999998,574 228.0,552 M169.6,728 Q198.79999999999998,722 228.0,700 M169.6,802 Q198.79999999999998,796 228.0,774 M169.6,876 Q198.79999999999998,870 228.0,848 M169.6,1024 Q198.79999999999998,1018 228.0,996 M169.6,1098 Q198.79999999999998,1092 228.0,1070 M169.6,1320 Q198.79999999999998,1314 228.0,1292 M169.6,1394 Q198.79999999999998,1388 228.0,1366 M169.6,1468 Q198.79999999999998,1462 228.0,1440" fill="none" stroke="#c7b23c" stroke-width="1.4" stroke-opacity="0.85"/>
<path d="M189,634 L166,784" stroke="#f3f3f3" stroke-width="3.2" stroke-linecap="round" fill="none"/>
<circle cx="166.5" cy="782" r="2" fill="#b9c3cf"/>
<path d="M185,1172 Q165,1160 160,1166 Q150,1180 135,1198 Q126,1215 126,1260 Q124,1330 127,1380" fill="none" stroke="#c7b088" stroke-width="2.6" stroke-linecap="round"/>
<path d="M169,1168 L227,1180 M169,1176 L227,1186" stroke="#9d8660" stroke-width="2" fill="none"/>
<use href="#leaf" transform="translate(200.0,339.0) rotate(25) scale(0.462,0.194)" fill="url(#leafA)" stroke="#f6c050" stroke-width="1.5" vector-effect="non-scaling-stroke" stroke-linejoin="round"/>
<use href="#leaf" transform="translate(239.0,337.0) rotate(10) scale(0.264,0.302)" fill="url(#leafB)" stroke="#f6c050" stroke-width="1.5" vector-effect="non-scaling-stroke" stroke-linejoin="round"/>
<use href="#leaf" transform="translate(174.0,370.0) rotate(10) scale(0.242,0.518)" fill="url(#leafA)" stroke="#f6c050" stroke-width="1.5" vector-effect="non-scaling-stroke" stroke-linejoin="round"/>
<use href="#leaf" transform="translate(225.0,375.0) rotate(-10) scale(0.330,0.486)" fill="url(#leafC)" stroke="#f6c050" stroke-width="1.5" vector-effect="non-scaling-stroke" stroke-linejoin="round"/><use href="#veins" transform="translate(225.0,375.0) rotate(-10) scale(0.330,0.486)" stroke="#f6c88a" stroke-opacity="0.7" stroke-width="1.3" vector-effect="non-scaling-stroke"/>
<use href="#leaf" transform="translate(235.0,410.0) rotate(0) scale(0.154,0.324)" fill="url(#leafA)" stroke="#f6c050" stroke-width="1.5" vector-effect="non-scaling-stroke" stroke-linejoin="round"/>
<use href="#leaf" transform="translate(154.0,425.0) rotate(-20) scale(0.242,0.281)" fill="url(#leafB)" stroke="#f6c050" stroke-width="1.5" vector-effect="non-scaling-stroke" stroke-linejoin="round"/>
<use href="#leaf" transform="translate(165.0,457.0) rotate(-30) scale(0.495,0.410)" fill="url(#leafB)" stroke="#f6c050" stroke-width="1.5" vector-effect="non-scaling-stroke" stroke-linejoin="round"/><use href="#veins" transform="translate(165.0,457.0) rotate(-30) scale(0.495,0.410)" stroke="#f6c88a" stroke-opacity="0.7" stroke-width="1.3" vector-effect="non-scaling-stroke"/>
<use href="#leaf" transform="translate(211.0,460.0) rotate(15) scale(0.605,0.486)" fill="url(#leafA)" stroke="#f6c050" stroke-width="1.5" vector-effect="non-scaling-stroke" stroke-linejoin="round"/><use href="#veins" transform="translate(211.0,460.0) rotate(15) scale(0.605,0.486)" stroke="#f6c88a" stroke-opacity="0.7" stroke-width="1.3" vector-effect="non-scaling-stroke"/>
<use href="#leaf" transform="translate(156.0,510.0) rotate(-15) scale(0.550,0.475)" fill="url(#leafB)" stroke="#f6c050" stroke-width="1.5" vector-effect="non-scaling-stroke" stroke-linejoin="round"/><use href="#veins" transform="translate(156.0,510.0) rotate(-15) scale(0.550,0.475)" stroke="#f6c88a" stroke-opacity="0.7" stroke-width="1.3" vector-effect="non-scaling-stroke"/>
<use href="#leaf" transform="translate(230.0,540.0) rotate(0) scale(0.264,0.367)" fill="url(#leafC)" stroke="#f6c050" stroke-width="1.5" vector-effect="non-scaling-stroke" stroke-linejoin="round"/>
<use href="#leaf" transform="translate(251.0,557.0) rotate(15) scale(0.374,0.475)" fill="url(#leafB)" stroke="#f6c050" stroke-width="1.5" vector-effect="non-scaling-stroke" stroke-linejoin="round"/><use href="#veins" transform="translate(251.0,557.0) rotate(15) scale(0.374,0.475)" stroke="#f6c88a" stroke-opacity="0.7" stroke-width="1.3" vector-effect="non-scaling-stroke"/>
<use href="#leaf" transform="translate(137.0,565.0) rotate(-20) scale(0.330,0.432)" fill="url(#leafA)" stroke="#f6c050" stroke-width="1.5" vector-effect="non-scaling-stroke" stroke-linejoin="round"/>
<use href="#leaf" transform="translate(167.0,562.0) rotate(15) scale(0.440,0.173)" fill="url(#leafC)" stroke="#f6c050" stroke-width="1.5" vector-effect="non-scaling-stroke" stroke-linejoin="round"/>
<use href="#leaf" transform="translate(207.0,590.0) rotate(0) scale(0.506,0.367)" fill="url(#leafC)" stroke="#f6c050" stroke-width="1.5" vector-effect="non-scaling-stroke" stroke-linejoin="round"/><use href="#veins" transform="translate(207.0,590.0) rotate(0) scale(0.506,0.367)" stroke="#f6c88a" stroke-opacity="0.7" stroke-width="1.3" vector-effect="non-scaling-stroke"/>
<use href="#leaf" transform="translate(235.0,640.0) rotate(10) scale(0.352,0.367)" fill="url(#leafA)" stroke="#f6c050" stroke-width="1.5" vector-effect="non-scaling-stroke" stroke-linejoin="round"/>
<use href="#leaf" transform="translate(168.0,668.0) rotate(-15) scale(0.374,0.518)" fill="url(#leafC)" stroke="#f6c050" stroke-width="1.5" vector-effect="non-scaling-stroke" stroke-linejoin="round"/><use href="#veins" transform="translate(168.0,668.0) rotate(-15) scale(0.374,0.518)" stroke="#f6c88a" stroke-opacity="0.7" stroke-width="1.3" vector-effect="non-scaling-stroke"/>
<use href="#leaf" transform="translate(232.0,697.0) rotate(5) scale(0.264,0.432)" fill="url(#leafC)" stroke="#f6c050" stroke-width="1.5" vector-effect="non-scaling-stroke" stroke-linejoin="round"/>
<use href="#leaf" transform="translate(164.0,715.0) rotate(0) scale(0.154,0.432)" fill="url(#leafA)" stroke="#f6c050" stroke-width="1.5" vector-effect="non-scaling-stroke" stroke-linejoin="round"/>
<use href="#leaf" transform="translate(220.0,740.0) rotate(20) scale(0.550,0.475)" fill="url(#leafA)" stroke="#f6c050" stroke-width="1.5" vector-effect="non-scaling-stroke" stroke-linejoin="round"/><use href="#veins" transform="translate(220.0,740.0) rotate(20) scale(0.550,0.475)" stroke="#f6c88a" stroke-opacity="0.7" stroke-width="1.3" vector-effect="non-scaling-stroke"/>
<use href="#leaf" transform="translate(235.0,762.0) rotate(10) scale(0.286,0.432)" fill="url(#leafB)" stroke="#f6c050" stroke-width="1.5" vector-effect="non-scaling-stroke" stroke-linejoin="round"/>
<use href="#leaf" transform="translate(175.0,800.0) rotate(-10) scale(0.440,0.432)" fill="url(#leafC)" stroke="#f6c050" stroke-width="1.5" vector-effect="non-scaling-stroke" stroke-linejoin="round"/><use href="#veins" transform="translate(175.0,800.0) rotate(-10) scale(0.440,0.432)" stroke="#f6c88a" stroke-opacity="0.7" stroke-width="1.3" vector-effect="non-scaling-stroke"/>
<use href="#leaf" transform="translate(161.0,842.0) rotate(0) scale(0.198,0.367)" fill="url(#leafA)" stroke="#f6c050" stroke-width="1.5" vector-effect="non-scaling-stroke" stroke-linejoin="round"/>
<use href="#leaf" transform="translate(207.0,845.0) rotate(30) scale(0.374,0.432)" fill="url(#leafB)" stroke="#f6c050" stroke-width="1.5" vector-effect="non-scaling-stroke" stroke-linejoin="round"/><use href="#veins" transform="translate(207.0,845.0) rotate(30) scale(0.374,0.432)" stroke="#f6c88a" stroke-opacity="0.7" stroke-width="1.3" vector-effect="non-scaling-stroke"/>
<use href="#leaf" transform="translate(222.0,890.0) rotate(-10) scale(0.440,0.367)" fill="url(#leafC)" stroke="#f6c050" stroke-width="1.5" vector-effect="non-scaling-stroke" stroke-linejoin="round"/><use href="#veins" transform="translate(222.0,890.0) rotate(-10) scale(0.440,0.367)" stroke="#f6c88a" stroke-opacity="0.7" stroke-width="1.3" vector-effect="non-scaling-stroke"/>
<use href="#leaf" transform="translate(252.0,884.0) rotate(-20) scale(0.220,0.108)" fill="url(#leafA)" stroke="#f6c050" stroke-width="1.5" vector-effect="non-scaling-stroke" stroke-linejoin="round"/>
<use href="#leaf" transform="translate(154.0,947.0) rotate(0) scale(0.242,0.216)" fill="url(#leafB)" stroke="#f6c050" stroke-width="1.5" vector-effect="non-scaling-stroke" stroke-linejoin="round"/>
<use href="#leaf" transform="translate(210.0,965.0) rotate(10) scale(0.506,0.475)" fill="url(#leafD)" stroke="#f6c050" stroke-width="1.5" vector-effect="non-scaling-stroke" stroke-linejoin="round"/><use href="#veins" transform="translate(210.0,965.0) rotate(10) scale(0.506,0.475)" stroke="#f6c88a" stroke-opacity="0.7" stroke-width="1.3" vector-effect="non-scaling-stroke"/>
<use href="#leaf" transform="translate(239.0,967.0) rotate(5) scale(0.264,0.389)" fill="url(#leafA)" stroke="#f6c050" stroke-width="1.5" vector-effect="non-scaling-stroke" stroke-linejoin="round"/>
<use href="#leaf" transform="translate(159.0,1000.0) rotate(0) scale(0.220,0.432)" fill="url(#leafA)" stroke="#f6c050" stroke-width="1.5" vector-effect="non-scaling-stroke" stroke-linejoin="round"/>
<use href="#leaf" transform="translate(196.0,1012.0) rotate(-10) scale(0.550,0.475)" fill="url(#leafD)" stroke="#f6c050" stroke-width="1.5" vector-effect="non-scaling-stroke" stroke-linejoin="round"/><use href="#veins" transform="translate(196.0,1012.0) rotate(-10) scale(0.550,0.475)" stroke="#f6c88a" stroke-opacity="0.7" stroke-width="1.3" vector-effect="non-scaling-stroke"/>
<use href="#leaf" transform="translate(230.0,1027.0) rotate(0) scale(0.220,0.432)" fill="url(#leafC)" stroke="#f6c050" stroke-width="1.5" vector-effect="non-scaling-stroke" stroke-linejoin="round"/>
<use href="#leaf" transform="translate(154.0,1062.0) rotate(-10) scale(0.330,0.540)" fill="url(#leafB)" stroke="#f6c050" stroke-width="1.5" vector-effect="non-scaling-stroke" stroke-linejoin="round"/><use href="#veins" transform="translate(154.0,1062.0) rotate(-10) scale(0.330,0.540)" stroke="#f6c88a" stroke-opacity="0.7" stroke-width="1.3" vector-effect="non-scaling-stroke"/>
<use href="#leaf" transform="translate(217.0,1080.0) rotate(10) scale(0.440,0.475)" fill="url(#leafA)" stroke="#f6c050" stroke-width="1.5" vector-effect="non-scaling-stroke" stroke-linejoin="round"/><use href="#veins" transform="translate(217.0,1080.0) rotate(10) scale(0.440,0.475)" stroke="#f6c88a" stroke-opacity="0.7" stroke-width="1.3" vector-effect="non-scaling-stroke"/>
<use href="#leaf" transform="translate(247.0,1106.0) rotate(-10) scale(0.330,0.097)" fill="url(#leafA)" stroke="#f6c050" stroke-width="1.5" vector-effect="non-scaling-stroke" stroke-linejoin="round"/>
<use href="#leaf" transform="translate(156.0,1132.0) rotate(-10) scale(0.286,0.475)" fill="url(#leafB)" stroke="#f6c050" stroke-width="1.5" vector-effect="non-scaling-stroke" stroke-linejoin="round"/>
<use href="#leaf" transform="translate(187.0,1132.0) rotate(10) scale(0.550,0.432)" fill="url(#leafA)" stroke="#f6c050" stroke-width="1.5" vector-effect="non-scaling-stroke" stroke-linejoin="round"/><use href="#veins" transform="translate(187.0,1132.0) rotate(10) scale(0.550,0.432)" stroke="#f6c88a" stroke-opacity="0.7" stroke-width="1.3" vector-effect="non-scaling-stroke"/>
<use href="#leaf" transform="translate(244.0,1156.0) rotate(10) scale(0.330,0.432)" fill="url(#leafB)" stroke="#f6c050" stroke-width="1.5" vector-effect="non-scaling-stroke" stroke-linejoin="round"/>
<use href="#leaf" transform="translate(202.0,1192.0) rotate(0) scale(0.275,0.173)" fill="url(#leafA)" stroke="#f6c050" stroke-width="1.5" vector-effect="non-scaling-stroke" stroke-linejoin="round"/>
<use href="#leaf" transform="translate(156.0,1187.0) rotate(-10) scale(0.110,0.259)" fill="url(#leafD)" stroke="#f6c050" stroke-width="1.5" vector-effect="non-scaling-stroke" stroke-linejoin="round"/>
<use href="#leaf" transform="translate(167.0,1245.0) rotate(0) scale(0.132,0.302)" fill="url(#leafC)" stroke="#f6c050" stroke-width="1.5" vector-effect="non-scaling-stroke" stroke-linejoin="round"/>
<use href="#leaf" transform="translate(231.0,1267.0) rotate(15) scale(0.550,0.475)" fill="url(#leafA)" stroke="#f6c050" stroke-width="1.5" vector-effect="non-scaling-stroke" stroke-linejoin="round"/><use href="#veins" transform="translate(231.0,1267.0) rotate(15) scale(0.550,0.475)" stroke="#f6c88a" stroke-opacity="0.7" stroke-width="1.3" vector-effect="non-scaling-stroke"/>
<use href="#leaf" transform="translate(160.0,1292.0) rotate(0) scale(0.220,0.151)" fill="url(#leafA)" stroke="#f6c050" stroke-width="1.5" vector-effect="non-scaling-stroke" stroke-linejoin="round"/>
<use href="#leaf" transform="translate(167.0,1307.0) rotate(-10) scale(0.418,0.475)" fill="url(#leafA)" stroke="#f6c050" stroke-width="1.5" vector-effect="non-scaling-stroke" stroke-linejoin="round"/><use href="#veins" transform="translate(167.0,1307.0) rotate(-10) scale(0.418,0.475)" stroke="#f6c88a" stroke-opacity="0.7" stroke-width="1.3" vector-effect="non-scaling-stroke"/>
<use href="#leaf" transform="translate(242.0,1332.0) rotate(0) scale(0.121,0.454)" fill="url(#leafA)" stroke="#f6c050" stroke-width="1.5" vector-effect="non-scaling-stroke" stroke-linejoin="round"/>
<use href="#leaf" transform="translate(161.0,1370.0) rotate(0) scale(0.154,0.540)" fill="url(#leafC)" stroke="#f6c050" stroke-width="1.5" vector-effect="non-scaling-stroke" stroke-linejoin="round"/>
<use href="#leaf" transform="translate(190.0,1380.0) rotate(10) scale(0.440,0.259)" fill="url(#leafA)" stroke="#f6c050" stroke-width="1.5" vector-effect="non-scaling-stroke" stroke-linejoin="round"/>
<use href="#leaf" transform="translate(227.0,1392.0) rotate(10) scale(0.374,0.432)" fill="url(#leafC)" stroke="#f6c050" stroke-width="1.5" vector-effect="non-scaling-stroke" stroke-linejoin="round"/><use href="#veins" transform="translate(227.0,1392.0) rotate(10) scale(0.374,0.432)" stroke="#f6c88a" stroke-opacity="0.7" stroke-width="1.3" vector-effect="non-scaling-stroke"/>
<use href="#leaf" transform="translate(155.0,1432.0) rotate(-5) scale(0.264,0.475)" fill="url(#leafA)" stroke="#f6c050" stroke-width="1.5" vector-effect="non-scaling-stroke" stroke-linejoin="round"/>
<use href="#leaf" transform="translate(219.0,1430.0) rotate(0) scale(0.550,0.367)" fill="url(#leafA)" stroke="#f6c050" stroke-width="1.5" vector-effect="non-scaling-stroke" stroke-linejoin="round"/><use href="#veins" transform="translate(219.0,1430.0) rotate(0) scale(0.550,0.367)" stroke="#f6c88a" stroke-opacity="0.7" stroke-width="1.3" vector-effect="non-scaling-stroke"/>
<use href="#leaf" transform="translate(212.0,1465.0) rotate(-10) scale(0.550,0.432)" fill="url(#leafA)" stroke="#f6c050" stroke-width="1.5" vector-effect="non-scaling-stroke" stroke-linejoin="round"/><use href="#veins" transform="translate(212.0,1465.0) rotate(-10) scale(0.550,0.432)" stroke="#f6c88a" stroke-opacity="0.7" stroke-width="1.3" vector-effect="non-scaling-stroke"/>
<use href="#leaf" transform="translate(145.0,1487.0) rotate(-15) scale(0.495,0.454)" fill="url(#leafA)" stroke="#f6c050" stroke-width="1.5" vector-effect="non-scaling-stroke" stroke-linejoin="round"/><use href="#veins" transform="translate(145.0,1487.0) rotate(-15) scale(0.495,0.454)" stroke="#f6c88a" stroke-opacity="0.7" stroke-width="1.3" vector-effect="non-scaling-stroke"/>
<rect x="325.8" y="275.5" width="184.7" height="220.5" rx="20.5" fill="#ffffff" stroke="#f6c577" stroke-width="3"/>
<rect x="538.3" y="275.5" width="184.70000000000005" height="220.5" rx="20.5" fill="#ffffff" stroke="#f6c577" stroke-width="3"/>
<rect x="750.8" y="275.5" width="184.70000000000005" height="220.5" rx="20.5" fill="#ffffff" stroke="#f6c577" stroke-width="3"/>
<rect x="328.3" y="523.5" width="184.99999999999994" height="221.0" rx="20.5" fill="#ffffff" stroke="#f6c577" stroke-width="3"/>
<rect x="540.3" y="523.5" width="184.70000000000005" height="221.0" rx="20.5" fill="#ffffff" stroke="#f6c577" stroke-width="3"/>
<rect x="752.3" y="523.5" width="184.70000000000005" height="221.0" rx="20.5" fill="#ffffff" stroke="#f6c577" stroke-width="3"/>
<path d="M345.6,355.6 L424.4,318.5 L489.4,319 L436.2,355.6 Z" fill="#c4c4c4"/>
<path d="M345.6,355.6 L424.4,318.5 L489.4,319 L436.2,355.6 Z" fill="url(#spkCoarse)"/>
<path d="M436.2,355.6 L489.4,319 L489.4,361.2 L436.2,405.6 Z" fill="#cbcbcb"/>
<path d="M436.2,355.6 L489.4,319 L489.4,361.2 L436.2,405.6 Z" fill="url(#spkCoarse)"/>
<path d="M345.6,355.6 L436.2,355.6 L436.2,405.6 L345.6,405.6 Z" fill="#c9c9c9"/>
<path d="M345.6,355.6 L436.2,355.6 L436.2,405.6 L345.6,405.6 Z" fill="url(#spkCoarse)"/>
<path d="M345.6,355.6 L424.4,318.5 L489.4,319 L436.2,355.6 Z M436.2,355.6 L489.4,319 L489.4,361.2 L436.2,405.6 Z M345.6,355.6 L436.2,355.6 L436.2,405.6 L345.6,405.6 Z" fill="none" stroke="#4a4a4a" stroke-width="1.3" stroke-linejoin="round"/>
<path d="M556.9,369 L635,330.6 Q668,329 701.9,331.9 L647.5,369 Z" fill="#dcdcdc"/>
<path d="M647.5,369 L701.9,331.9 L702.5,353 L648,393.5 Z" fill="#d2d2d2"/>
<path d="M556.9,369 L647.5,369 L648,393.5 Q600,391 558,393.5 Q555,381 556.9,369 Z" fill="#d8d8d8"/>
<path d="M556.9,369 L635,330.6 Q668,329 701.9,331.9 L647.5,369 Z M647.5,369 L701.9,331.9 L702.5,353 L648,393.5 Z M556.9,369 L647.5,369 L648,393.5 Q600,391 558,393.5 Q555,381 556.9,369 Z" fill="none" stroke="#5a5a5a" stroke-width="1.3" stroke-linejoin="round"/>
<path d="M563,384 Q580,376 598,382 T640,384 M600,362 Q618,352 632,340 Q640,346 652,345 Q664,338 680,337 M625,356 Q640,350 655,352 M655,372 Q672,362 692,344 M570,374 Q585,371 596,376" fill="none" stroke="#9a9a9a" stroke-width="1"/>
<path d="M769.4,355.6 L848.8,318.5 L913,319.4 L858.8,355.6 Z" fill="#d3d3d3"/>
<path d="M858.8,355.6 L913,319.4 L913,361.2 L858.8,405.6 Z" fill="#d5d5d5"/>
<path d="M769.4,355.6 L858.8,355.6 L858.8,405.6 L769.4,405.6 Z" fill="#d0d0d0"/>
<path d="M769.4,355.6 L848.8,318.5 L913,319.4 L858.8,355.6 Z M858.8,355.6 L913,319.4 L913,361.2 L858.8,405.6 Z M769.4,355.6 L858.8,355.6 L858.8,405.6 L769.4,405.6 Z" fill="none" stroke="#6a6a6a" stroke-width="1.6" stroke-linejoin="round"/>
<path d="M772.4,358.6 L855.8,358.6 L855.8,402.6 L772.4,402.6 Z" fill="none" stroke="#dedede" stroke-width="2.4"/>
<path d="M348,598.8 L425,561.2 L492,561.5 L437.5,598.8 Z" fill="#cdcdcd"/>
<path d="M348,598.8 L425,561.2 L492,561.5 L437.5,598.8 Z" fill="url(#spkFine)"/>
<path d="M437.5,598.8 L492,561.5 L492,605 L437.5,648.0 Z" fill="#d2d2d2"/>
<path d="M437.5,598.8 L492,561.5 L492,605 L437.5,648.0 Z" fill="url(#spkFine)"/>
<path d="M348,598.8 L437.5,598.8 L437.5,648.0 L348,648.0 Z" fill="#cfcfcf"/>
<path d="M348,598.8 L437.5,598.8 L437.5,648.0 L348,648.0 Z" fill="url(#spkFine)"/>
<path d="M348,598.8 L425,561.2 L492,561.5 L437.5,598.8 Z M437.5,598.8 L492,561.5 L492,605 L437.5,648.0 Z M348,598.8 L437.5,598.8 L437.5,648.0 L348,648.0 Z" fill="none" stroke="#555" stroke-width="1.3" stroke-linejoin="round"/>
<path d="M559.5,598.8 L638.8,561.2 L704.2,561.5 L650,598.8 Z" fill="#c3c3c3"/>
<path d="M559.5,598.8 L638.8,561.2 L704.2,561.5 L650,598.8 Z" fill="url(#spkMed)"/>
<path d="M650,598.8 L704.2,561.5 L704.2,605 L650,648.0 Z" fill="#c8c8c8"/>
<path d="M650,598.8 L704.2,561.5 L704.2,605 L650,648.0 Z" fill="url(#spkMed)"/>
<path d="M559.5,598.8 L650,598.8 L650,648.0 L559.5,648.0 Z" fill="#c5c5c5"/>
<path d="M559.5,598.8 L650,598.8 L650,648.0 L559.5,648.0 Z" fill="url(#spkMed)"/>
<path d="M559.5,598.8 L638.8,561.2 L704.2,561.5 L650,598.8 Z M650,598.8 L704.2,561.5 L704.2,605 L650,648.0 Z M559.5,598.8 L650,598.8 L650,648.0 L559.5,648.0 Z" fill="none" stroke="#4c4c4c" stroke-width="1.3" stroke-linejoin="round"/>
<path d="M771.2,598 L851.2,560.6 L915.6,561.2 L861.9,598 Z" fill="#c6c6c6"/>
<path d="M771.2,598 L851.2,560.6 L915.6,561.2 L861.9,598 Z" fill="url(#spkCoarse)"/>
<path d="M861.9,598 L915.6,561.2 L915.6,603 L861.9,648 Z" fill="#cccccc"/>
<path d="M861.9,598 L915.6,561.2 L915.6,603 L861.9,648 Z" fill="url(#spkCoarse)"/>
<path d="M771.2,598 L861.9,598 L861.9,648 L771.2,648 Z" fill="#cacaca"/>
<path d="M771.2,598 L861.9,598 L861.9,648 L771.2,648 Z" fill="url(#spkCoarse)"/>
<path d="M771.2,598 L851.2,560.6 L915.6,561.2 L861.9,598 Z M861.9,598 L915.6,561.2 L915.6,603 L861.9,648 Z M771.2,598 L861.9,598 L861.9,648 L771.2,648 Z" fill="none" stroke="#4a4a4a" stroke-width="1.3" stroke-linejoin="round"/>
<path d="M800.3,594.3 Q804.8,599.3 820.6,594.3 L876.7,563.5 Q874.1,559.8 861.5,563.4 Z" fill="#7c7c7c" stroke="#505050" stroke-width="1"/>
<path d="M832.0,594.3 Q837.3,599.3 852.3,594.3 L900.6,563.7 Q897.2,560.0 885.3,563.6 Z" fill="#7c7c7c" stroke="#505050" stroke-width="1"/>
<clipPath id="photoclip"><rect x="964.6" y="278.1" width="580.2" height="465.3" rx="20"/></clipPath>
<g clip-path="url(#photoclip)">
<rect x="962.0" y="275.5" width="585.4000000000001" height="470.5" fill="url(#wallP)"/>
<use href="#leaf" transform="translate(987.0,362.0) rotate(-25) scale(0.620,0.340)" fill="url(#leafE)" stroke="#f6c050" stroke-width="1.5" vector-effect="non-scaling-stroke" stroke-linejoin="round"/><use href="#veins" transform="translate(987.0,362.0) rotate(-25) scale(0.620,0.340)" stroke="#f6c88a" stroke-opacity="0.7" stroke-width="1.3" vector-effect="non-scaling-stroke"/>
<use href="#leaf" transform="translate(1012.0,415.0) rotate(18) scale(0.240,0.660)" fill="url(#leafD)" stroke="#f6c050" stroke-width="1.5" vector-effect="non-scaling-stroke" stroke-linejoin="round"/><use href="#veins" transform="translate(1012.0,415.0) rotate(18) scale(0.240,0.660)" stroke="#f6c88a" stroke-opacity="0.7" stroke-width="1.3" vector-effect="non-scaling-stroke"/>
<use href="#leaf" transform="translate(1144.0,355.0) rotate(20) scale(0.380,0.500)" fill="url(#leafD)" stroke="#f6c050" stroke-width="1.5" vector-effect="non-scaling-stroke" stroke-linejoin="round"/><use href="#veins" transform="translate(1144.0,355.0) rotate(20) scale(0.380,0.500)" stroke="#f6c88a" stroke-opacity="0.7" stroke-width="1.3" vector-effect="non-scaling-stroke"/>
<use href="#leaf" transform="translate(1022.0,520.0) rotate(-5) scale(0.500,0.780)" fill="url(#leafA)" stroke="#f6c050" stroke-width="1.5" vector-effect="non-scaling-stroke" stroke-linejoin="round"/><use href="#veins" transform="translate(1022.0,520.0) rotate(-5) scale(0.500,0.780)" stroke="#f6c88a" stroke-opacity="0.7" stroke-width="1.3" vector-effect="non-scaling-stroke"/>
<use href="#leaf" transform="translate(1015.0,577.0) rotate(-20) scale(0.440,0.480)" fill="url(#leafB)" stroke="#f6c050" stroke-width="1.5" vector-effect="non-scaling-stroke" stroke-linejoin="round"/><use href="#veins" transform="translate(1015.0,577.0) rotate(-20) scale(0.440,0.480)" stroke="#f6c88a" stroke-opacity="0.7" stroke-width="1.3" vector-effect="non-scaling-stroke"/>
<rect x="1035" y="275.5" width="118.8" height="470.5" fill="url(#ropeP)"/>
<rect x="1035" y="275.5" width="118.8" height="470.5" fill="url(#ropelinesP)"/>
<path d="M1062,280 Q1050,300 1043,312 M1035,375 Q1045,385 1050,392 Q1090,412 1153,430 Q1180,445 1210,440 M1050,392 Q1038,410 1028,425 M1035,545 Q1060,560 1062,568 Q1100,585 1153,598 M1062,568 Q1055,590 1048,608 M1153,598 Q1140,585 1165,558 M1035,672 Q1080,700 1153,735 M1120,715 Q1135,690 1148,678" fill="none" stroke="#cdb634" stroke-width="2"/>
<rect x="1035" y="485" width="118.8" height="13" fill="#6f5f48" fill-opacity="0.35"/>
<path d="M987,449 L1478,449 Q1490,449 1490,456 L1488,478 Q1486,485.5 1474,485.5 L987,485.5 Q970,485.5 970,467 Q970,449 987,449 Z" fill="#eca562"/>
<path d="M987,449 L1478,449 Q1490,449 1490,456 L1489,464 L970,464 Q970,449 987,449 Z" fill="#f2b377" fill-opacity="0.8"/>
<path d="M1474,449.5 L1482,449.5 Q1490,450 1490,456 L1488,478 Q1487,484 1480,485 L1472,485 Q1478,467 1474,449.5 Z" fill="#e3b87c"/>
<use href="#leaf" transform="translate(1244.0,430.0) rotate(8) scale(0.920,0.400)" fill="url(#leafD)" stroke="#f6c050" stroke-width="1.5" vector-effect="non-scaling-stroke" stroke-linejoin="round"/><use href="#veins" transform="translate(1244.0,430.0) rotate(8) scale(0.920,0.400)" stroke="#f6c88a" stroke-opacity="0.7" stroke-width="1.3" vector-effect="non-scaling-stroke"/>
<rect x="1274.8" y="481.8" width="35" height="197" rx="2" fill="#e8f1fc" fill-opacity="0.92" stroke="#f0961f" stroke-width="3.6"/>
<circle cx="1293.4" cy="659.6" r="8" fill="#dfeaf8" stroke="#f0961f" stroke-width="3.4"/>
<pattern id="hatch" patternUnits="userSpaceOnUse" width="4.5" height="4.5" patternTransform="rotate(-42)"><rect width="4.5" height="4.5" fill="#fff1da"/><rect width="4.5" height="2.2" fill="#f0961f"/></pattern>
<path d="M1340.6,583.6 L1342.8,589.0 L1346.0,592.0 L1342.4,597.5 L1349.0,604.0 L1345.4,609.5 L1351.0,616.0 L1347.4,621.5 L1352.0,629.0 L1348.4,634.5 L1352.4,642.0 L1348.8,647.5 L1348.1,653.0 L1333.1,653.0 L1332.6,652.5 L1329.0,647.0 L1332.6,640.5 L1329.0,635.0 L1333.2,627.5 L1329.6,622.0 L1334.6,615.5 L1331.0,610.0 L1337.6,603.5 L1334.0,598.0 L1338.0,591.0 Z" fill="url(#hatch)" stroke="#f0961f" stroke-width="2" stroke-linejoin="round"/>
<path d="M1333,651.8 L1348.4,651.8 L1359,666.5 L1322,666.5 Z" fill="#fdf3e6" stroke="#f0961f" stroke-width="2" stroke-linejoin="round"/>
<ellipse cx="1340.5" cy="668.3" rx="18.2" ry="10.2" fill="#fdf3e6" stroke="#f0961f" stroke-width="2"/>
<path d="M1340.5,662 L1342.4,666.6 L1352,668.3 L1342.4,670 L1340.5,674.6 L1338.6,670 L1329,668.3 L1338.6,666.6 Z" fill="#f0961f" stroke="#f0961f" stroke-width="0.8" stroke-linejoin="round"/>
<circle cx="1340.5" cy="668.3" r="1.2" fill="#fdf3e6"/>
<use href="#leaf" transform="translate(1027.0,325.0) rotate(-20) scale(0.940,0.800)" fill="url(#leafE)" stroke="#f6c050" stroke-width="1.5" vector-effect="non-scaling-stroke" stroke-linejoin="round"/><use href="#veins" transform="translate(1027.0,325.0) rotate(-20) scale(0.940,0.800)" stroke="#f6c88a" stroke-opacity="0.7" stroke-width="1.3" vector-effect="non-scaling-stroke"/>
<use href="#leaf" transform="translate(1110.0,350.0) rotate(12) scale(0.660,1.000)" fill="url(#leafA)" stroke="#f6c050" stroke-width="1.5" vector-effect="non-scaling-stroke" stroke-linejoin="round"/><use href="#veins" transform="translate(1110.0,350.0) rotate(12) scale(0.660,1.000)" stroke="#f6c88a" stroke-opacity="0.7" stroke-width="1.3" vector-effect="non-scaling-stroke"/>
<use href="#leaf" transform="translate(1171.0,285.0) rotate(10) scale(0.100,0.160)" fill="url(#leafB)" stroke="#f6c050" stroke-width="1.5" vector-effect="non-scaling-stroke" stroke-linejoin="round"/>
<use href="#leaf" transform="translate(1167.0,525.0) rotate(-32) scale(0.740,0.660)" fill="url(#leafA)" stroke="#f6c050" stroke-width="1.5" vector-effect="non-scaling-stroke" stroke-linejoin="round"/><use href="#veins" transform="translate(1167.0,525.0) rotate(-32) scale(0.740,0.660)" stroke="#f6c88a" stroke-opacity="0.7" stroke-width="1.3" vector-effect="non-scaling-stroke"/>
<use href="#leaf" transform="translate(1047.0,632.0) rotate(-12) scale(0.880,0.940)" fill="url(#leafC)" stroke="#f6c050" stroke-width="1.5" vector-effect="non-scaling-stroke" stroke-linejoin="round"/><use href="#veins" transform="translate(1047.0,632.0) rotate(-12) scale(0.880,0.940)" stroke="#f6c88a" stroke-opacity="0.7" stroke-width="1.3" vector-effect="non-scaling-stroke"/>
<use href="#leaf" transform="translate(1165.0,672.0) rotate(8) scale(0.840,0.980)" fill="url(#leafC)" stroke="#f6c050" stroke-width="1.5" vector-effect="non-scaling-stroke" stroke-linejoin="round"/><use href="#veins" transform="translate(1165.0,672.0) rotate(8) scale(0.840,0.980)" stroke="#f6c88a" stroke-opacity="0.7" stroke-width="1.3" vector-effect="non-scaling-stroke"/>
<use href="#leaf" transform="translate(997.0,712.0) rotate(15) scale(0.400,0.580)" fill="url(#leafD)" stroke="#f6c050" stroke-width="1.5" vector-effect="non-scaling-stroke" stroke-linejoin="round"/><use href="#veins" transform="translate(997.0,712.0) rotate(15) scale(0.400,0.580)" stroke="#f6c88a" stroke-opacity="0.7" stroke-width="1.3" vector-effect="non-scaling-stroke"/>
<use href="#leaf" transform="translate(1027.0,728.0) rotate(-10) scale(0.260,0.300)" fill="url(#leafA)" stroke="#f6c050" stroke-width="1.5" vector-effect="non-scaling-stroke" stroke-linejoin="round"/>
</g>
<rect x="963.5" y="277.0" width="582.4000000000001" height="467.5" rx="21" fill="none" stroke="#f6c577" stroke-width="3"/>
<rect x="328.5" y="877" width="1221.5" height="373" rx="22" fill="#f3f3f1"/>
<clipPath id="stepclip0"><rect x="336.09999999999997" y="831.8" width="385.5" height="313.59999999999997" rx="28"/></clipPath>
<rect x="334.5" y="830.1999999999999" width="388.7" height="316.79999999999995" rx="30" fill="#ffffff" stroke="#f7c370" stroke-width="3.6"/>
<clipPath id="stepclip1"><rect x="750.1999999999999" y="831.8" width="384.90000000000003" height="313.59999999999997" rx="28"/></clipPath>
<rect x="748.5999999999999" y="830.1999999999999" width="388.1" height="316.79999999999995" rx="30" fill="#ffffff" stroke="#f7c370" stroke-width="3.6"/>
<clipPath id="stepclip2"><rect x="1160.2" y="831.8" width="386.49999999999994" height="313.59999999999997" rx="28"/></clipPath>
<rect x="1158.6" y="830.1999999999999" width="389.69999999999993" height="316.79999999999995" rx="30" fill="#ffffff" stroke="#f7c370" stroke-width="3.6"/>
<g clip-path="url(#stepclip0)">
<rect x="333" y="829" width="180.5" height="320" fill="url(#pebble)"/>
<rect x="336" y="974.3" width="177.5" height="45" fill="#ffffff"/>
<path d="M513.6,829 L513.6,974.3 L340,974.3 M513.6,1148 L513.6,1019.3 L340,1019.3" fill="none" stroke="#1c1c1c" stroke-width="1.6"/>
<path d="M346,977 L642,977 L660,984.5 L685,984.5 L690,977 L724,977 L724,1016 L690,1016 L685,1007 L660,1007 L642,1016 L346,1016 L337,1004 L337,989 Z" fill="#ffffff"/>
<path d="M346,977 L337,989 L337,1004 L346,1016 M346,977 L350,977 M346,1016 L352,1016 M346,977 L343,996 L346,1016 M343,996 L337,996 M350,980 Q349,996 354,1004 L360,1000 L362,992 Q372,990 380,1004" fill="none" stroke="#1c1c1c" stroke-width="1.5" stroke-linejoin="round"/>
<path d="M350.0,980 Q368.4,973.5 386.8,980 M368.4,1013 Q386.8,1019.5 405.1,1013 M350.0,980 C359.0,986 369.0,1006 378.0,1015.5 M357.0,977.3 C368.0,984 377.0,1004 387.0,1016 M367.0,976 C377.0,982 388.0,998 398.0,1014.5 M386.8,980 Q405.1,973.5 423.5,980 M405.1,1013 Q423.5,1019.5 441.9,1013 M386.8,980 C395.8,986 405.8,1006 414.8,1015.5 M393.8,977.3 C404.8,984 413.8,1004 423.8,1016 M403.8,976 C413.8,982 424.8,998 434.8,1014.5 M423.5,980 Q441.9,973.5 460.2,980 M441.9,1013 Q460.2,1019.5 478.6,1013 M423.5,980 C432.5,986 442.5,1006 451.5,1015.5 M430.5,977.3 C441.5,984 450.5,1004 460.5,1016 M440.5,976 C450.5,982 461.5,998 471.5,1014.5 M460.2,980 Q478.6,973.5 497.0,980 M478.6,1013 Q497.0,1019.5 515.4,1013 M460.2,980 C469.2,986 479.2,1006 488.2,1015.5 M467.2,977.3 C478.2,984 487.2,1004 497.2,1016 M477.2,976 C487.2,982 498.2,998 508.2,1014.5 M497.0,980 Q515.4,973.5 533.8,980 M515.4,1013 Q533.8,1019.5 552.1,1013 M497.0,980 C506.0,986 516.0,1006 525.0,1015.5 M504.0,977.3 C515.0,984 524.0,1004 534.0,1016 M514.0,976 C524.0,982 535.0,998 545.0,1014.5 M533.8,980 Q552.1,973.5 570.5,980 M552.1,1013 Q570.5,1019.5 588.9,1013 M533.8,980 C542.8,986 552.8,1006 561.8,1015.5 M540.8,977.3 C551.8,984 560.8,1004 570.8,1016 M550.8,976 C560.8,982 571.8,998 581.8,1014.5 M570.5,980 Q588.9,973.5 607.2,980 M588.9,1013 Q607.2,1019.5 625.6,1013 M570.5,980 C579.5,986 589.5,1006 598.5,1015.5 M577.5,977.3 C588.5,984 597.5,1004 607.5,1016 M587.5,976 C597.5,982 608.5,998 618.5,1014.5 M607.2,980 Q625.6,973.5 644.0,980 M625.6,1013 Q636.8,1019.5 648.0,1013 M607.2,980 C616.2,986 626.2,1006 635.2,1015.5 M614.2,977.3 C625.2,984 634.2,1004 644.2,1016" fill="none" stroke="#1c1c1c" stroke-width="1.45" stroke-linecap="round"/>
<path d="M642,979 L660,984.5 L685,984.5 L690,977 L724,977 M645,1014 L660,1007 L685,1007 L690,1016 L724,1016 M661.5,984.5 L661.5,1007 M668,984.5 L668,1007 M685,984.5 L685,1007 M690,977 L690,1016" fill="none" stroke="#1c1c1c" stroke-width="1.5"/>
</g>
<g clip-path="url(#stepclip1)">
<rect x="747" y="829" width="187.5" height="320" fill="url(#pebble)"/>
<rect x="749" y="973.2" width="185.5" height="43" fill="#ffffff"/>
<path d="M934.5,829 L934.5,973.2 L750,973.2 M934.5,1148 L934.5,1016.2 L750,1016.2" fill="none" stroke="#1c1c1c" stroke-width="1.6"/>
<path d="M758,978.8 L835,978.8 L856,970.5 L855,978.8 L1045.5,978.8 L1047,982 L1050,975 Q1058.8,976 1058.8,985 L1058.8,1009 Q1058.8,1018 1050,1018.8 L1047,1010.5 L1045.5,1013.8 L856,1013.8 L856,1022 L835,1013.8 L758,1013.8 Q750.5,1013.8 750.5,1006 L750.5,986 Q750.5,978.8 758,978.8 Z" fill="#ffffff" stroke="#1c1c1c" stroke-width="1.6" stroke-linejoin="round"/>
<path d="M1047,982 L1047,1010.5 M1050.5,976 L1050.5,1018" fill="none" stroke="#1c1c1c" stroke-width="1.3"/>
<path d="M750.5,997 L765,997 L765,991 L781,991 L781,1000 L799,1000 L799,991 L817,991 L817,996 L867.5,996" fill="none" stroke="#1c1c1c" stroke-width="2.6"/>
<path d="M833,1006 L841,1003 L856,1011 L856,1020 Z" fill="#1c1c1c"/>
<path d="M750,973.2 L772,973.2 M750,1016.4 L775,1016.4" stroke="#1c1c1c" stroke-width="2.4"/>
<path d="M1084,978 L1090,967.5 L1137,970 L1137,1027 L1090,1028 L1084,1018 Z" fill="#ffffff" stroke="#1c1c1c" stroke-width="1.5" stroke-linejoin="round"/>
<path d="M1090,967.5 L1095,978 L1137,972.5 M1090,1028 L1095,1017 L1137,1024 M1095,978 L1095,1017" fill="none" stroke="#1c1c1c" stroke-width="1.3"/>
</g>
<g clip-path="url(#stepclip2)">
<rect x="1157" y="829" width="125" height="320" fill="url(#pebble)"/>
<rect x="1379.5" y="829" width="171" height="320" fill="url(#cream)"/>
<path d="M1323,829 Q1327,880 1322,930 Q1312,980 1316,1030" fill="none" stroke="#e9e9e9" stroke-width="13" stroke-linecap="round" stroke-opacity="0.9"/>
<ellipse cx="1319" cy="1030" rx="5" ry="9" fill="#777" fill-opacity="0.45" transform="rotate(15 1319 1030)"/>
<rect x="1157" y="1005" width="125" height="42.5" fill="#ffffff" stroke="#1c1c1c" stroke-width="1.4"/>
<rect x="1157" y="1010" width="113" height="33.8" fill="#f4f4f4" stroke="#1c1c1c" stroke-width="1.3"/>
<path d="M1157,1017 L1270,1017 M1157,1036.2 L1270,1036.2" stroke="#1c1c1c" stroke-width="1.8"/>
<path d="M1162.0,1013 L1169.0,1040 M1172.5,1013 L1179.5,1040 M1183.0,1013 L1190.0,1040 M1193.5,1013 L1200.5,1040 M1204.0,1013 L1211.0,1040 M1214.5,1013 L1221.5,1040 M1225.0,1013 L1232.0,1040 M1235.5,1013 L1242.5,1040 M1246.0,1013 L1253.0,1040 M1256.5,1013 L1263.5,1040" stroke="#1c1c1c" stroke-width="1.7"/>
<path d="M1270,1008 Q1276,1008 1282,1014 L1282,1040 Q1276,1046 1270,1046 Z" fill="#ffffff" stroke="#1c1c1c" stroke-width="1.3"/>
<path d="M1281.8,829 L1281.8,1148" stroke="#1c1c1c" stroke-width="1.7"/>
<rect x="1283.6" y="985.5" width="14.6" height="81.5" fill="#ffffff" stroke="#1c1c1c" stroke-width="1.4"/>
<path d="M1298.2,1018 L1486.2,1018 L1498.8,997 L1498.8,1057 L1486.2,1035 L1298.2,1035" fill="#fbf5dc" stroke="#1c1c1c" stroke-width="1.7" stroke-linejoin="round"/>
<rect x="1299" y="1019" width="83" height="15.2" fill="#ffffff"/>
<path d="M1486.2,1018 L1486.2,1035 M1498.8,996 L1498.8,1058" stroke="#1c1c1c" stroke-width="2"/>
<path d="M1302,1014 L1308,1039 M1310,1014 L1316,1039 M1318,1014 L1324,1039 M1326,1014 L1331,1039" stroke="#1c1c1c" stroke-width="1.5"/>
<path d="M1548,1003 L1522,999.5 L1516,1008 L1518,1046 L1522,1056 L1548,1051" fill="none" stroke="#1c1c1c" stroke-width="1.5" stroke-linejoin="round"/>
<path d="M1522,999.5 L1524,1008 L1548,1005 M1522,1056 L1524,1047 L1548,1049.5" fill="none" stroke="#1c1c1c" stroke-width="1.2"/>
</g>
<rect x="334.5" y="830.1999999999999" width="388.7" height="316.79999999999995" rx="30" fill="none" stroke="#f7c370" stroke-width="3.6"/>
<rect x="748.5999999999999" y="830.1999999999999" width="388.1" height="316.79999999999995" rx="30" fill="none" stroke="#f7c370" stroke-width="3.6"/>
<rect x="1158.6" y="830.1999999999999" width="389.69999999999993" height="316.79999999999995" rx="30" fill="none" stroke="#f7c370" stroke-width="3.6"/>
<circle cx="361.0" cy="844.5" r="33" fill="#fccc82"/>
<circle cx="777.7" cy="848.0" r="33" fill="#fccc82"/>
<circle cx="1186.0" cy="849.4" r="33" fill="#fccc82"/>
<text x="361.0" y="862.0" font-size="48" font-weight="bold" fill="#f5980f" text-anchor="middle">1</text>
<text x="777.7" y="865.5" font-size="48" font-weight="bold" fill="#f5980f" text-anchor="middle">2</text>
<text x="1186.0" y="866.9" font-size="48" font-weight="bold" fill="#f5980f" text-anchor="middle">3</text>
<text y="197.5" font-weight="bold" font-style="italic" fill="#f0961f" stroke="#f0961f" stroke-width="2.2" stroke-linejoin="round" style="font-family:'DejaVu Sans','Liberation Sans',sans-serif"><tspan x="325" textLength="342" lengthAdjust="spacingAndGlyphs"><tspan font-size="78">S</tspan><tspan font-size="104">a</tspan><tspan font-size="82">f</tspan><tspan font-size="104">e</tspan><tspan font-size="88">t</tspan><tspan font-size="104">y</tspan></tspan> <tspan x="686" textLength="328" lengthAdjust="spacingAndGlyphs"><tspan font-size="85">D</tspan><tspan font-size="104">es</tspan><tspan font-size="82">i</tspan><tspan font-size="104">gn</tspan></tspan></text>
<text x="363" y="462.5" font-size="25.2" font-weight="normal" fill="#434343" text-anchor="start" textLength="105" lengthAdjust="spacingAndGlyphs">Concrete</text>
<text x="585" y="447" font-size="25.2" font-weight="normal" fill="#434343" text-anchor="start" textLength="85" lengthAdjust="spacingAndGlyphs">Natural</text>
<text x="559.5" y="478.8" font-size="25.2" font-weight="normal" fill="#434343" text-anchor="start" textLength="143.5" lengthAdjust="spacingAndGlyphs">Dense Stone</text>
<text x="780.8" y="463.4" font-size="25.2" font-weight="normal" fill="#434343" text-anchor="start" textLength="120.2" lengthAdjust="spacingAndGlyphs">Solid Brick</text>
<text x="390" y="694.8" font-size="25.2" font-weight="normal" fill="#434343" text-anchor="start" textLength="56" lengthAdjust="spacingAndGlyphs">Solid</text>
<text x="330.8" y="727" font-size="25.2" font-weight="normal" fill="#434343" text-anchor="start" textLength="180" lengthAdjust="spacingAndGlyphs">Sand-lime Brick</text>
<text x="570" y="695" font-size="25.2" font-weight="normal" fill="#434343" text-anchor="start" textLength="135" lengthAdjust="spacingAndGlyphs">Lightweight</text>
<text x="588" y="727" font-size="25.2" font-weight="normal" fill="#434343" text-anchor="start" textLength="105" lengthAdjust="spacingAndGlyphs">Concrete</text>
<text x="801" y="692" font-size="25.2" font-weight="normal" fill="#434343" text-anchor="start" textLength="81" lengthAdjust="spacingAndGlyphs">Hollow</text>
<text x="757" y="724" font-size="25.2" font-weight="normal" fill="#434343" text-anchor="start" textLength="174" lengthAdjust="spacingAndGlyphs">Concrete Block</text>
<text x="1031" y="793" font-size="42.7" font-weight="bold" fill="#f0961f" text-anchor="start" textLength="430" lengthAdjust="spacingAndGlyphs">Anti-dumping device</text>
<text x="448" y="1216.4" font-size="32.8" font-weight="normal" fill="#434343" text-anchor="start" textLength="199.7" lengthAdjust="spacingAndGlyphs">1. Drill a hole</text>
<text x="801" y="1193.9" font-size="32.8" font-weight="normal" fill="#434343" text-anchor="start" textLength="282.6" lengthAdjust="spacingAndGlyphs">2. Drive the plastic</text>
<text x="742" y="1233.2" font-size="32.8" font-weight="normal" fill="#434343" text-anchor="start" textLength="407.8" lengthAdjust="spacingAndGlyphs">expansion tube to the hole</text>
<text x="1220.4" y="1186.8" font-size="32.8" font-weight="normal" fill="#434343" text-anchor="start" textLength="271.1" lengthAdjust="spacingAndGlyphs">3. Tighten the nut</text>
<text x="1244.8" y="1227.6" font-size="32.8" font-weight="normal" fill="#434343" text-anchor="start" textLength="229.8" lengthAdjust="spacingAndGlyphs">to the required</text>
<text x="336" y="1316" font-size="42" font-weight="bold" fill="#f0961f" textLength="114" lengthAdjust="spacingAndGlyphs">Note:</text>
<text id="n1" transform="translate(466,1316) scale(1.13,1)" font-size="32" fill="#f0961f" word-spacing="7.2">Except for wood panel walls, which can be directly tapped with</text>
<text id="n2" transform="translate(336,1364) scale(1.13,1)" font-size="32" fill="#f0961f" word-spacing="5.0">self-tapping screws, all other walls need to be pre-buried with expansion</text>
<text id="n3" transform="translate(336,1410.5) scale(1.13,1)" font-size="32" fill="#f0961f" word-spacing="2.4">tubes first, and the choice of fittings depends on the type of wall.</text>
</svg>
</div>
</body>
</html>
